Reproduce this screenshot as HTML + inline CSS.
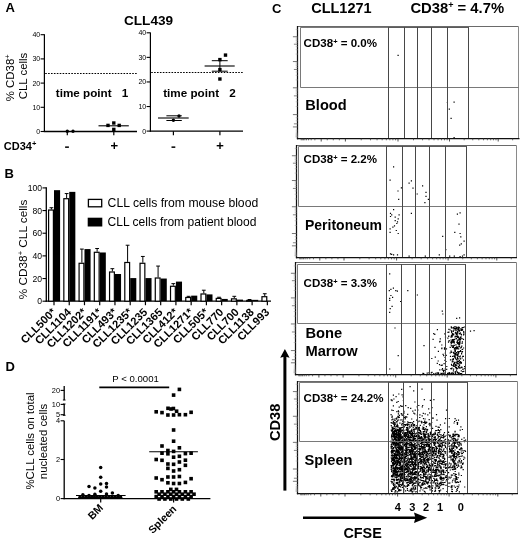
<!DOCTYPE html>
<html><head><meta charset="utf-8"><title>Figure</title>
<style>
html,body{margin:0;padding:0;background:#fff;}
body{width:520px;height:539px;overflow:hidden;font-family:"Liberation Sans",sans-serif;}
svg{display:block;opacity:0.999;will-change:transform;font-family:"Liberation Sans",sans-serif;}
</style></head><body>
<svg width="520" height="539" viewBox="0 0 520 539">
<rect width="520" height="539" fill="#fff"/>
<text x="5.5" y="11.8" font-size="13" font-weight="bold" text-anchor="start" fill="#000" >A</text>
<text x="4.6" y="178.2" font-size="13" font-weight="bold" text-anchor="start" fill="#000" >B</text>
<text x="272" y="12.6" font-size="13" font-weight="bold" text-anchor="start" fill="#000" >C</text>
<text x="5.6" y="370.8" font-size="13" font-weight="bold" text-anchor="start" fill="#000" >D</text>
<text x="124" y="25" font-size="13.6" font-weight="bold" text-anchor="start" fill="#000" >CLL439</text>
<line x1="44.4" y1="34.2" x2="44.4" y2="132.1" stroke="#000" stroke-width="1.2" />
<line x1="43.8" y1="131.5" x2="137" y2="131.5" stroke="#000" stroke-width="1.3" />
<line x1="40.6" y1="131.5" x2="44.4" y2="131.5" stroke="#000" stroke-width="1.1" />
<text x="40.199999999999996" y="134.0" font-size="7" text-anchor="end" fill="#000" >0</text>
<line x1="40.6" y1="107.3" x2="44.4" y2="107.3" stroke="#000" stroke-width="1.1" />
<text x="40.199999999999996" y="109.8" font-size="7" text-anchor="end" fill="#000" >10</text>
<line x1="40.6" y1="83.1" x2="44.4" y2="83.1" stroke="#000" stroke-width="1.1" />
<text x="40.199999999999996" y="85.6" font-size="7" text-anchor="end" fill="#000" >20</text>
<line x1="40.6" y1="58.900000000000006" x2="44.4" y2="58.900000000000006" stroke="#000" stroke-width="1.1" />
<text x="40.199999999999996" y="61.400000000000006" font-size="7" text-anchor="end" fill="#000" >30</text>
<line x1="40.6" y1="34.7" x2="44.4" y2="34.7" stroke="#000" stroke-width="1.1" />
<text x="40.199999999999996" y="37.2" font-size="7" text-anchor="end" fill="#000" >40</text>
<line x1="45.199999999999996" y1="73.5" x2="137.5" y2="73.5" stroke="#000" stroke-width="1.1" stroke-dasharray="1.6 1.3"/>
<line x1="150.4" y1="32.4" x2="150.4" y2="131.7" stroke="#000" stroke-width="1.2" />
<line x1="149.8" y1="131.1" x2="243" y2="131.1" stroke="#000" stroke-width="1.3" />
<line x1="146.6" y1="131.1" x2="150.4" y2="131.1" stroke="#000" stroke-width="1.1" />
<text x="146.20000000000002" y="133.6" font-size="7" text-anchor="end" fill="#000" >0</text>
<line x1="146.6" y1="106.52499999999999" x2="150.4" y2="106.52499999999999" stroke="#000" stroke-width="1.1" />
<text x="146.20000000000002" y="109.02499999999999" font-size="7" text-anchor="end" fill="#000" >10</text>
<line x1="146.6" y1="81.94999999999999" x2="150.4" y2="81.94999999999999" stroke="#000" stroke-width="1.1" />
<text x="146.20000000000002" y="84.44999999999999" font-size="7" text-anchor="end" fill="#000" >20</text>
<line x1="146.6" y1="57.375" x2="150.4" y2="57.375" stroke="#000" stroke-width="1.1" />
<text x="146.20000000000002" y="59.875" font-size="7" text-anchor="end" fill="#000" >30</text>
<line x1="146.6" y1="32.8" x2="150.4" y2="32.8" stroke="#000" stroke-width="1.1" />
<text x="146.20000000000002" y="35.3" font-size="7" text-anchor="end" fill="#000" >40</text>
<line x1="151.20000000000002" y1="72.5" x2="243.5" y2="72.5" stroke="#000" stroke-width="1.1" stroke-dasharray="1.6 1.3"/>
<text transform="translate(13.6,101.2) rotate(-90)" font-size="11.4" fill="#000">% CD38<tspan dy="-3.6" font-size="7.5">+</tspan></text>
<text transform="translate(27.3,99.2) rotate(-90)" font-size="11.4" fill="#000">CLL cells</text>
<text x="55.8" y="96.6" font-size="11.7" font-weight="bold" text-anchor="start" fill="#000" >time point</text>
<text x="121.8" y="96.6" font-size="11.7" font-weight="bold" text-anchor="start" fill="#000" >1</text>
<text x="163.2" y="96.6" font-size="11.7" font-weight="bold" text-anchor="start" fill="#000" >time point</text>
<text x="229.2" y="96.6" font-size="11.7" font-weight="bold" text-anchor="start" fill="#000" >2</text>
<text x="3.8" y="149.8" font-size="11" font-weight="bold" fill="#000">CD34<tspan dy="-3.5" font-size="7.5">+</tspan></text>
<rect x="65.10" y="146.40" width="3.80" height="1.50" fill="#000" stroke="none" stroke-width="1"/>
<rect x="171.50" y="146.40" width="3.80" height="1.50" fill="#000" stroke="none" stroke-width="1"/>
<rect x="111.00" y="145.00" width="6.60" height="1.40" fill="#000" stroke="none" stroke-width="1"/>
<rect x="113.60" y="142.40" width="1.40" height="6.60" fill="#000" stroke="none" stroke-width="1"/>
<rect x="216.70" y="145.00" width="6.60" height="1.40" fill="#000" stroke="none" stroke-width="1"/>
<rect x="219.30" y="142.40" width="1.40" height="6.60" fill="#000" stroke="none" stroke-width="1"/>
<line x1="67.3" y1="131.3" x2="67.3" y2="135.3" stroke="#000" stroke-width="1.2" />
<line x1="113.8" y1="131.3" x2="113.8" y2="135.3" stroke="#000" stroke-width="1.2" />
<line x1="173.4" y1="131.3" x2="173.4" y2="135.3" stroke="#000" stroke-width="1.2" />
<line x1="219.9" y1="131.3" x2="219.9" y2="135.3" stroke="#000" stroke-width="1.2" />
<circle cx="67.3" cy="131.3" r="1.7" fill="#000"/>
<circle cx="73.0" cy="131.3" r="1.7" fill="#000"/>
<rect x="106.3" y="123.7" width="3.4" height="3.4" fill="#000"/>
<rect x="112.1" y="121.3" width="3.4" height="3.4" fill="#000"/>
<rect x="117.5" y="123.7" width="3.4" height="3.4" fill="#000"/>
<rect x="112.1" y="127.7" width="3.4" height="3.4" fill="#000"/>
<line x1="98.5" y1="125.8" x2="128.8" y2="125.8" stroke="#000" stroke-width="1.1" />
<circle cx="173.4" cy="120.2" r="1.7" fill="#000"/>
<circle cx="179.0" cy="116.0" r="1.7" fill="#000"/>
<line x1="158" y1="118" x2="188.7" y2="118" stroke="#000" stroke-width="1.1" />
<line x1="166.4" y1="115.8" x2="181.8" y2="115.8" stroke="#000" stroke-width="1" />
<line x1="166.4" y1="120.5" x2="181.8" y2="120.5" stroke="#000" stroke-width="1" />
<rect x="223.8" y="53.4" width="3.4" height="3.4" fill="#000"/>
<rect x="218.2" y="57.9" width="3.4" height="3.4" fill="#000"/>
<rect x="218.2" y="67.9" width="3.4" height="3.4" fill="#000"/>
<rect x="218.2" y="77.3" width="3.4" height="3.4" fill="#000"/>
<line x1="204.6" y1="66" x2="234.7" y2="66" stroke="#000" stroke-width="1.1" />
<line x1="211.8" y1="60.7" x2="227.7" y2="60.7" stroke="#000" stroke-width="1" />
<line x1="211.8" y1="71.2" x2="227.7" y2="71.2" stroke="#000" stroke-width="1" />
<line x1="219.9" y1="60.7" x2="219.9" y2="71.2" stroke="#000" stroke-width="1" />
<line x1="46.3" y1="187.3" x2="46.3" y2="301.8" stroke="#000" stroke-width="1.3" />
<line x1="45.699999999999996" y1="301.2" x2="271" y2="301.2" stroke="#000" stroke-width="1.3" />
<line x1="42.5" y1="301.2" x2="46.3" y2="301.2" stroke="#000" stroke-width="1.1" />
<text x="42.099999999999994" y="304.3" font-size="8.6" text-anchor="end" fill="#000" >0</text>
<line x1="42.5" y1="278.53999999999996" x2="46.3" y2="278.53999999999996" stroke="#000" stroke-width="1.1" />
<text x="42.099999999999994" y="281.64" font-size="8.6" text-anchor="end" fill="#000" >20</text>
<line x1="42.5" y1="255.88" x2="46.3" y2="255.88" stroke="#000" stroke-width="1.1" />
<text x="42.099999999999994" y="258.98" font-size="8.6" text-anchor="end" fill="#000" >40</text>
<line x1="42.5" y1="233.21999999999997" x2="46.3" y2="233.21999999999997" stroke="#000" stroke-width="1.1" />
<text x="42.099999999999994" y="236.31999999999996" font-size="8.6" text-anchor="end" fill="#000" >60</text>
<line x1="42.5" y1="210.56" x2="46.3" y2="210.56" stroke="#000" stroke-width="1.1" />
<text x="42.099999999999994" y="213.66" font-size="8.6" text-anchor="end" fill="#000" >80</text>
<line x1="42.5" y1="187.89999999999998" x2="46.3" y2="187.89999999999998" stroke="#000" stroke-width="1.1" />
<text x="42.099999999999994" y="190.99999999999997" font-size="8.6" text-anchor="end" fill="#000" >100</text>
<text transform="translate(27,299.3) rotate(-90)" font-size="11.8" fill="#000">% CD38<tspan dy="-3.6" font-size="7.5">+</tspan><tspan dy="3.6"> CLL cells</tspan></text>
<line x1="54.0" y1="301.2" x2="54.0" y2="305.2" stroke="#000" stroke-width="1.2" />
<line x1="51.4" y1="207.7275" x2="51.4" y2="209.427" stroke="#000" stroke-width="1" />
<line x1="49.5" y1="207.7275" x2="53.3" y2="207.7275" stroke="#000" stroke-width="1" />
<rect x="48.60" y="210.03" width="4.80" height="91.17" fill="#fff" stroke="#000" stroke-width="1.2"/>
<rect x="54.00" y="190.17" width="6.10" height="111.03" fill="#000" stroke="none" stroke-width="1"/>
<text transform="translate(56.6,312.8) rotate(-45)" font-size="11.1" font-weight="bold" text-anchor="end" fill="#000">CLL500*</text>
<line x1="69.24" y1="301.2" x2="69.24" y2="305.2" stroke="#000" stroke-width="1.2" />
<line x1="66.64" y1="193.565" x2="66.64" y2="198.09699999999998" stroke="#000" stroke-width="1" />
<line x1="64.74" y1="193.565" x2="68.54" y2="193.565" stroke="#000" stroke-width="1" />
<rect x="63.84" y="198.70" width="4.80" height="102.50" fill="#fff" stroke="#000" stroke-width="1.2"/>
<rect x="69.24" y="191.87" width="6.10" height="109.33" fill="#000" stroke="none" stroke-width="1"/>
<text transform="translate(71.8,312.8) rotate(-45)" font-size="11.1" font-weight="bold" text-anchor="end" fill="#000">CLL1104</text>
<line x1="84.48" y1="301.2" x2="84.48" y2="305.2" stroke="#000" stroke-width="1.2" />
<line x1="81.88000000000001" y1="249.082" x2="81.88000000000001" y2="262.678" stroke="#000" stroke-width="1" />
<line x1="79.98" y1="249.082" x2="83.78000000000002" y2="249.082" stroke="#000" stroke-width="1" />
<rect x="79.08" y="263.28" width="4.80" height="37.92" fill="#fff" stroke="#000" stroke-width="1.2"/>
<rect x="84.48" y="249.08" width="6.10" height="52.12" fill="#000" stroke="none" stroke-width="1"/>
<text transform="translate(87.1,312.8) rotate(-45)" font-size="11.1" font-weight="bold" text-anchor="end" fill="#000">CLL1202*</text>
<line x1="99.72" y1="301.2" x2="99.72" y2="305.2" stroke="#000" stroke-width="1.2" />
<line x1="97.12" y1="248.51549999999997" x2="97.12" y2="251.68789999999998" stroke="#000" stroke-width="1" />
<line x1="95.22" y1="248.51549999999997" x2="99.02000000000001" y2="248.51549999999997" stroke="#000" stroke-width="1" />
<rect x="94.32" y="252.29" width="4.80" height="48.91" fill="#fff" stroke="#000" stroke-width="1.2"/>
<rect x="99.72" y="252.48" width="6.10" height="48.72" fill="#000" stroke="none" stroke-width="1"/>
<text transform="translate(102.3,312.8) rotate(-45)" font-size="11.1" font-weight="bold" text-anchor="end" fill="#000">CLL1191*</text>
<line x1="114.96000000000001" y1="301.2" x2="114.96000000000001" y2="305.2" stroke="#000" stroke-width="1.2" />
<line x1="112.36000000000001" y1="268.6829" x2="112.36000000000001" y2="271.40209999999996" stroke="#000" stroke-width="1" />
<line x1="110.46000000000001" y1="268.6829" x2="114.26000000000002" y2="268.6829" stroke="#000" stroke-width="1" />
<rect x="109.56" y="272.00" width="4.80" height="29.20" fill="#fff" stroke="#000" stroke-width="1.2"/>
<rect x="114.96" y="274.01" width="6.10" height="27.19" fill="#000" stroke="none" stroke-width="1"/>
<text transform="translate(117.6,312.8) rotate(-45)" font-size="11.1" font-weight="bold" text-anchor="end" fill="#000">CLL493*</text>
<line x1="130.2" y1="301.2" x2="130.2" y2="305.2" stroke="#000" stroke-width="1.2" />
<line x1="127.6" y1="245.22979999999998" x2="127.6" y2="261.8849" stroke="#000" stroke-width="1" />
<line x1="125.69999999999999" y1="245.22979999999998" x2="129.5" y2="245.22979999999998" stroke="#000" stroke-width="1" />
<rect x="124.80" y="262.48" width="4.80" height="38.72" fill="#fff" stroke="#000" stroke-width="1.2"/>
<rect x="130.20" y="278.09" width="6.10" height="23.11" fill="#000" stroke="none" stroke-width="1"/>
<text transform="translate(132.8,312.8) rotate(-45)" font-size="11.1" font-weight="bold" text-anchor="end" fill="#000">CLL1235*</text>
<line x1="145.44" y1="301.2" x2="145.44" y2="305.2" stroke="#000" stroke-width="1.2" />
<line x1="142.84" y1="256.4465" x2="142.84" y2="262.678" stroke="#000" stroke-width="1" />
<line x1="140.94" y1="256.4465" x2="144.74" y2="256.4465" stroke="#000" stroke-width="1" />
<rect x="140.04" y="263.28" width="4.80" height="37.92" fill="#fff" stroke="#000" stroke-width="1.2"/>
<rect x="145.44" y="278.09" width="6.10" height="23.11" fill="#000" stroke="none" stroke-width="1"/>
<text transform="translate(148.0,312.8) rotate(-45)" font-size="11.1" font-weight="bold" text-anchor="end" fill="#000">CLL1235</text>
<line x1="160.68" y1="301.2" x2="160.68" y2="305.2" stroke="#000" stroke-width="1.2" />
<line x1="158.08" y1="266.077" x2="158.08" y2="277.407" stroke="#000" stroke-width="1" />
<line x1="156.18" y1="266.077" x2="159.98000000000002" y2="266.077" stroke="#000" stroke-width="1" />
<rect x="155.28" y="278.01" width="4.80" height="23.19" fill="#fff" stroke="#000" stroke-width="1.2"/>
<rect x="160.68" y="278.54" width="6.10" height="22.66" fill="#000" stroke="none" stroke-width="1"/>
<text transform="translate(163.3,312.8) rotate(-45)" font-size="11.1" font-weight="bold" text-anchor="end" fill="#000">CLL1365</text>
<line x1="175.92000000000002" y1="301.2" x2="175.92000000000002" y2="305.2" stroke="#000" stroke-width="1.2" />
<line x1="173.32000000000002" y1="283.63849999999996" x2="173.32000000000002" y2="285.67789999999997" stroke="#000" stroke-width="1" />
<line x1="171.42000000000002" y1="283.63849999999996" x2="175.22000000000003" y2="283.63849999999996" stroke="#000" stroke-width="1" />
<rect x="170.52" y="286.28" width="4.80" height="14.92" fill="#fff" stroke="#000" stroke-width="1.2"/>
<rect x="175.92" y="281.60" width="6.10" height="19.60" fill="#000" stroke="none" stroke-width="1"/>
<text transform="translate(178.5,312.8) rotate(-45)" font-size="11.1" font-weight="bold" text-anchor="end" fill="#000">CLL412*</text>
<line x1="191.16" y1="301.2" x2="191.16" y2="305.2" stroke="#000" stroke-width="1.2" />
<line x1="188.56" y1="296.3281" x2="188.56" y2="296.89459999999997" stroke="#000" stroke-width="1" />
<line x1="186.66" y1="296.3281" x2="190.46" y2="296.3281" stroke="#000" stroke-width="1" />
<rect x="185.76" y="297.49" width="4.80" height="3.71" fill="#fff" stroke="#000" stroke-width="1.2"/>
<rect x="191.16" y="295.65" width="6.10" height="5.55" fill="#000" stroke="none" stroke-width="1"/>
<text transform="translate(193.8,312.8) rotate(-45)" font-size="11.1" font-weight="bold" text-anchor="end" fill="#000">CLL1271*</text>
<line x1="206.4" y1="301.2" x2="206.4" y2="305.2" stroke="#000" stroke-width="1.2" />
<line x1="203.8" y1="290.2099" x2="203.8" y2="293.3823" stroke="#000" stroke-width="1" />
<line x1="201.9" y1="290.2099" x2="205.70000000000002" y2="290.2099" stroke="#000" stroke-width="1" />
<rect x="201.00" y="293.98" width="4.80" height="7.22" fill="#fff" stroke="#000" stroke-width="1.2"/>
<rect x="206.40" y="294.40" width="6.10" height="6.80" fill="#000" stroke="none" stroke-width="1"/>
<text transform="translate(209.0,312.8) rotate(-45)" font-size="11.1" font-weight="bold" text-anchor="end" fill="#000">CLL505*</text>
<line x1="221.64000000000001" y1="301.2" x2="221.64000000000001" y2="305.2" stroke="#000" stroke-width="1.2" />
<line x1="219.04000000000002" y1="297.23449999999997" x2="219.04000000000002" y2="297.801" stroke="#000" stroke-width="1" />
<line x1="217.14000000000001" y1="297.23449999999997" x2="220.94000000000003" y2="297.23449999999997" stroke="#000" stroke-width="1" />
<rect x="216.24" y="298.40" width="4.80" height="2.80" fill="#fff" stroke="#000" stroke-width="1.2"/>
<rect x="221.64" y="298.93" width="6.10" height="2.27" fill="#000" stroke="none" stroke-width="1"/>
<text transform="translate(224.2,312.8) rotate(-45)" font-size="11.1" font-weight="bold" text-anchor="end" fill="#000">CLL770</text>
<line x1="236.88" y1="301.2" x2="236.88" y2="305.2" stroke="#000" stroke-width="1.2" />
<line x1="234.28" y1="296.3281" x2="234.28" y2="298.25419999999997" stroke="#000" stroke-width="1" />
<line x1="232.38" y1="296.3281" x2="236.18" y2="296.3281" stroke="#000" stroke-width="1" />
<rect x="231.48" y="298.85" width="4.80" height="2.35" fill="#fff" stroke="#000" stroke-width="1.2"/>
<rect x="236.88" y="299.61" width="6.10" height="1.59" fill="#000" stroke="none" stroke-width="1"/>
<text transform="translate(239.5,312.8) rotate(-45)" font-size="11.1" font-weight="bold" text-anchor="end" fill="#000">CLL700</text>
<line x1="252.12" y1="301.2" x2="252.12" y2="305.2" stroke="#000" stroke-width="1.2" />
<line x1="249.52" y1="299.5005" x2="249.52" y2="299.8404" stroke="#000" stroke-width="1" />
<line x1="247.62" y1="299.5005" x2="251.42000000000002" y2="299.5005" stroke="#000" stroke-width="1" />
<rect x="246.72" y="300.44" width="4.80" height="0.76" fill="#fff" stroke="#000" stroke-width="1.2"/>
<rect x="252.12" y="299.84" width="6.10" height="1.36" fill="#000" stroke="none" stroke-width="1"/>
<text transform="translate(254.7,312.8) rotate(-45)" font-size="11.1" font-weight="bold" text-anchor="end" fill="#000">CLL1138</text>
<line x1="267.36" y1="301.2" x2="267.36" y2="305.2" stroke="#000" stroke-width="1.2" />
<line x1="264.76" y1="293.7222" x2="264.76" y2="296.1015" stroke="#000" stroke-width="1" />
<line x1="262.86" y1="293.7222" x2="266.65999999999997" y2="293.7222" stroke="#000" stroke-width="1" />
<rect x="261.96" y="296.70" width="4.80" height="4.50" fill="#fff" stroke="#000" stroke-width="1.2"/>
<text transform="translate(270.0,312.8) rotate(-45)" font-size="11.1" font-weight="bold" text-anchor="end" fill="#000">CLL993</text>
<rect x="88.40" y="199.40" width="13.30" height="7.40" fill="#fff" stroke="#000" stroke-width="1.3"/>
<rect x="87.70" y="217.70" width="14.60" height="8.80" fill="#000" stroke="none" stroke-width="1"/>
<text x="107.6" y="206.8" font-size="12.2" text-anchor="start" fill="#000" >CLL cells from mouse blood</text>
<text x="107.6" y="226" font-size="12.05" text-anchor="start" fill="#000" >CLL cells from patient blood</text>
<line x1="64.2" y1="420.8" x2="64.2" y2="499.20000000000005" stroke="#000" stroke-width="1.3" />
<line x1="64.2" y1="404" x2="64.2" y2="415.3" stroke="#000" stroke-width="1.3" />
<line x1="64.2" y1="386" x2="64.2" y2="400" stroke="#000" stroke-width="1.3" />
<line x1="62.900000000000006" y1="400" x2="65.5" y2="400" stroke="#000" stroke-width="1" />
<line x1="62.900000000000006" y1="404" x2="65.5" y2="404" stroke="#000" stroke-width="1" />
<line x1="62.900000000000006" y1="415.3" x2="65.5" y2="415.3" stroke="#000" stroke-width="1" />
<line x1="63.6" y1="498.6" x2="210.4" y2="498.6" stroke="#000" stroke-width="1.3" />
<line x1="60.6" y1="498.6" x2="64.2" y2="498.6" stroke="#000" stroke-width="1.1" />
<text x="60.0" y="501.20000000000005" font-size="7.4" text-anchor="end" fill="#000" >0</text>
<line x1="60.6" y1="459.5" x2="64.2" y2="459.5" stroke="#000" stroke-width="1.1" />
<text x="60.0" y="462.1" font-size="7.4" text-anchor="end" fill="#000" >2</text>
<line x1="60.6" y1="420.8" x2="64.2" y2="420.8" stroke="#000" stroke-width="1.1" />
<text x="60.0" y="423.40000000000003" font-size="7.4" text-anchor="end" fill="#000" >4</text>
<line x1="60.6" y1="414.7" x2="64.2" y2="414.7" stroke="#000" stroke-width="1.1" />
<text x="60.0" y="417.3" font-size="7.4" text-anchor="end" fill="#000" >5</text>
<line x1="60.6" y1="404.4" x2="64.2" y2="404.4" stroke="#000" stroke-width="1.1" />
<text x="60.0" y="407.0" font-size="7.4" text-anchor="end" fill="#000" >10</text>
<line x1="60.6" y1="390.4" x2="64.2" y2="390.4" stroke="#000" stroke-width="1.1" />
<text x="60.0" y="393.0" font-size="7.4" text-anchor="end" fill="#000" >20</text>
<text transform="translate(33.6,441) rotate(-90)" font-size="11.4" text-anchor="middle" fill="#000">%CLL cells on total</text>
<text transform="translate(47,441.5) rotate(-90)" font-size="11.4" text-anchor="middle" fill="#000">nucleated cells</text>
<line x1="99.3" y1="387.4" x2="169.2" y2="387.4" stroke="#000" stroke-width="1.6" />
<text x="135.6" y="382.2" font-size="9.6" text-anchor="middle" fill="#000" >P &lt; 0.0001</text>
<line x1="100.7" y1="498.6" x2="100.7" y2="502.6" stroke="#000" stroke-width="1.2" />
<line x1="173.6" y1="498.6" x2="173.6" y2="502.6" stroke="#000" stroke-width="1.2" />
<text transform="translate(103.8,508.6) rotate(-45)" font-size="10.6" font-weight="bold" text-anchor="end" fill="#000">BM</text>
<text transform="translate(177.2,509.6) rotate(-45)" font-size="10.6" font-weight="bold" text-anchor="end" fill="#000">Spleen</text>
<circle cx="100.7" cy="467.4" r="1.75" fill="#000"/>
<circle cx="100.7" cy="477.2" r="1.75" fill="#000"/>
<circle cx="100.7" cy="484.0" r="1.75" fill="#000"/>
<circle cx="106.5" cy="483.5" r="1.75" fill="#000"/>
<circle cx="106.5" cy="487.0" r="1.75" fill="#000"/>
<circle cx="89.0" cy="486.6" r="1.75" fill="#000"/>
<circle cx="94.9" cy="488.1" r="1.75" fill="#000"/>
<circle cx="100.7" cy="491.3" r="1.75" fill="#000"/>
<circle cx="112.4" cy="493.0" r="1.75" fill="#000"/>
<circle cx="106.5" cy="494.0" r="1.75" fill="#000"/>
<circle cx="94.9" cy="494.3" r="1.75" fill="#000"/>
<circle cx="82.9" cy="494.7" r="1.75" fill="#000"/>
<circle cx="89.0" cy="495.4" r="1.75" fill="#000"/>
<circle cx="118.2" cy="495.4" r="1.75" fill="#000"/>
<circle cx="80.0" cy="497.3" r="1.75" fill="#000"/>
<circle cx="82.9" cy="497.3" r="1.75" fill="#000"/>
<circle cx="85.8" cy="497.3" r="1.75" fill="#000"/>
<circle cx="88.7" cy="497.3" r="1.75" fill="#000"/>
<circle cx="91.6" cy="497.3" r="1.75" fill="#000"/>
<circle cx="94.5" cy="497.3" r="1.75" fill="#000"/>
<circle cx="97.4" cy="497.3" r="1.75" fill="#000"/>
<circle cx="100.3" cy="497.3" r="1.75" fill="#000"/>
<circle cx="103.2" cy="497.3" r="1.75" fill="#000"/>
<circle cx="106.1" cy="497.3" r="1.75" fill="#000"/>
<circle cx="109.0" cy="497.3" r="1.75" fill="#000"/>
<circle cx="111.9" cy="497.3" r="1.75" fill="#000"/>
<circle cx="114.8" cy="497.3" r="1.75" fill="#000"/>
<circle cx="117.7" cy="497.3" r="1.75" fill="#000"/>
<circle cx="120.6" cy="497.3" r="1.75" fill="#000"/>
<line x1="76" y1="495.5" x2="125.6" y2="495.5" stroke="#000" stroke-width="1.1" />
<rect x="177.6" y="387.6" width="3.6" height="3.6" fill="#000"/>
<rect x="171.8" y="393.3" width="3.6" height="3.6" fill="#000"/>
<rect x="166.2" y="406.5" width="3.6" height="3.6" fill="#000"/>
<rect x="171.6" y="406.7" width="3.6" height="3.6" fill="#000"/>
<rect x="169.2" y="407.2" width="3.6" height="3.6" fill="#000"/>
<rect x="174.8" y="409.4" width="3.6" height="3.6" fill="#000"/>
<rect x="154.4" y="410.0" width="3.6" height="3.6" fill="#000"/>
<rect x="160.2" y="410.8" width="3.6" height="3.6" fill="#000"/>
<rect x="189.3" y="410.5" width="3.6" height="3.6" fill="#000"/>
<rect x="166.1" y="413.2" width="3.6" height="3.6" fill="#000"/>
<rect x="171.8" y="413.2" width="3.6" height="3.6" fill="#000"/>
<rect x="177.6" y="412.9" width="3.6" height="3.6" fill="#000"/>
<rect x="183.6" y="412.9" width="3.6" height="3.6" fill="#000"/>
<rect x="171.8" y="428.2" width="3.6" height="3.6" fill="#000"/>
<rect x="171.8" y="439.4" width="3.6" height="3.6" fill="#000"/>
<rect x="160.2" y="444.2" width="3.6" height="3.6" fill="#000"/>
<rect x="177.6" y="446.0" width="3.6" height="3.6" fill="#000"/>
<rect x="166.1" y="448.7" width="3.6" height="3.6" fill="#000"/>
<rect x="171.8" y="449.6" width="3.6" height="3.6" fill="#000"/>
<rect x="160.2" y="451.4" width="3.6" height="3.6" fill="#000"/>
<rect x="166.1" y="452.0" width="3.6" height="3.6" fill="#000"/>
<rect x="183.6" y="451.8" width="3.6" height="3.6" fill="#000"/>
<rect x="189.3" y="451.4" width="3.6" height="3.6" fill="#000"/>
<rect x="171.8" y="455.4" width="3.6" height="3.6" fill="#000"/>
<rect x="177.6" y="454.5" width="3.6" height="3.6" fill="#000"/>
<rect x="154.4" y="457.7" width="3.6" height="3.6" fill="#000"/>
<rect x="160.2" y="458.5" width="3.6" height="3.6" fill="#000"/>
<rect x="183.6" y="458.4" width="3.6" height="3.6" fill="#000"/>
<rect x="177.6" y="460.2" width="3.6" height="3.6" fill="#000"/>
<rect x="166.1" y="462.2" width="3.6" height="3.6" fill="#000"/>
<rect x="171.8" y="462.5" width="3.6" height="3.6" fill="#000"/>
<rect x="183.6" y="463.5" width="3.6" height="3.6" fill="#000"/>
<rect x="166.1" y="466.6" width="3.6" height="3.6" fill="#000"/>
<rect x="177.6" y="467.9" width="3.6" height="3.6" fill="#000"/>
<rect x="171.8" y="469.2" width="3.6" height="3.6" fill="#000"/>
<rect x="166.1" y="475.2" width="3.6" height="3.6" fill="#000"/>
<rect x="171.8" y="475.2" width="3.6" height="3.6" fill="#000"/>
<rect x="177.6" y="474.7" width="3.6" height="3.6" fill="#000"/>
<rect x="154.4" y="476.2" width="3.6" height="3.6" fill="#000"/>
<rect x="160.2" y="477.9" width="3.6" height="3.6" fill="#000"/>
<rect x="189.3" y="476.9" width="3.6" height="3.6" fill="#000"/>
<rect x="166.1" y="481.0" width="3.6" height="3.6" fill="#000"/>
<rect x="171.8" y="481.7" width="3.6" height="3.6" fill="#000"/>
<rect x="177.6" y="481.7" width="3.6" height="3.6" fill="#000"/>
<rect x="183.6" y="480.6" width="3.6" height="3.6" fill="#000"/>
<rect x="169.0" y="487.6" width="3.6" height="3.6" fill="#000"/>
<rect x="174.7" y="487.6" width="3.6" height="3.6" fill="#000"/>
<rect x="154.4" y="490.0" width="3.6" height="3.6" fill="#000"/>
<rect x="154.4" y="494.8" width="3.6" height="3.6" fill="#000"/>
<rect x="160.2" y="490.0" width="3.6" height="3.6" fill="#000"/>
<rect x="160.2" y="494.8" width="3.6" height="3.6" fill="#000"/>
<rect x="166.1" y="490.0" width="3.6" height="3.6" fill="#000"/>
<rect x="166.1" y="494.8" width="3.6" height="3.6" fill="#000"/>
<rect x="171.8" y="490.0" width="3.6" height="3.6" fill="#000"/>
<rect x="171.8" y="494.8" width="3.6" height="3.6" fill="#000"/>
<rect x="177.6" y="490.0" width="3.6" height="3.6" fill="#000"/>
<rect x="177.6" y="494.8" width="3.6" height="3.6" fill="#000"/>
<rect x="183.6" y="490.0" width="3.6" height="3.6" fill="#000"/>
<rect x="183.6" y="494.8" width="3.6" height="3.6" fill="#000"/>
<rect x="189.3" y="490.0" width="3.6" height="3.6" fill="#000"/>
<rect x="189.3" y="494.8" width="3.6" height="3.6" fill="#000"/>
<rect x="157.3" y="492.4" width="3.6" height="3.6" fill="#000"/>
<rect x="163.1" y="492.4" width="3.6" height="3.6" fill="#000"/>
<rect x="169.0" y="492.4" width="3.6" height="3.6" fill="#000"/>
<rect x="174.7" y="492.4" width="3.6" height="3.6" fill="#000"/>
<rect x="180.5" y="492.4" width="3.6" height="3.6" fill="#000"/>
<rect x="186.5" y="492.4" width="3.6" height="3.6" fill="#000"/>
<rect x="192.2" y="492.4" width="3.6" height="3.6" fill="#000"/>
<rect x="157.3" y="497.2" width="3.6" height="3.6" fill="#000"/>
<rect x="163.1" y="497.2" width="3.6" height="3.6" fill="#000"/>
<rect x="169.0" y="497.2" width="3.6" height="3.6" fill="#000"/>
<rect x="174.7" y="497.2" width="3.6" height="3.6" fill="#000"/>
<rect x="180.5" y="497.2" width="3.6" height="3.6" fill="#000"/>
<rect x="186.5" y="497.2" width="3.6" height="3.6" fill="#000"/>
<line x1="149.2" y1="451.7" x2="197.9" y2="451.7" stroke="#000" stroke-width="1.1" />
<text x="311.2" y="13" font-size="14.5" font-weight="bold" text-anchor="start" fill="#000" >CLL1271</text>
<text x="410.4" y="12.7" font-size="14.8" font-weight="bold" fill="#000">CD38<tspan dy="-4.5" font-size="9">+</tspan><tspan dy="4.5"> = 4.7%</tspan></text>
<path d="M397.5 55.4h1.2M446.8 102.5h1.2M453.5 102.2h1.2M448.7 109.2h1.2M450.5 118.4h1.2M453.5 137.5h1.2M393.0 166.9h1.2M389.5 180.1h1.2M400.8 187.8h1.2M397.4 191.0h1.2M398.1 199.4h1.2M410.8 180.8h1.2M408.5 183.1h1.2M412.4 188.2h1.2M422.0 185.9h1.2M416.6 194.0h1.2M425.4 192.4h1.2M425.4 196.3h1.2M427.8 199.4h1.2M424.3 202.6h1.2M393.0 209.6h1.2M389.9 213.3h1.2M391.1 214.9h1.2M398.5 214.9h1.2M389.9 216.5h1.2M394.6 217.2h1.2M397.6 218.9h1.2M394.6 220.7h1.2M396.9 221.9h1.2M396.2 223.5h1.2M393.9 225.8h1.2M392.3 227.2h1.2M389.5 228.8h1.2M395.7 230.5h1.2M389.5 232.3h1.2M397.6 233.5h1.2M410.8 213.3h1.2M459.5 212.8h1.2M456.8 214.2h1.2M458.4 224.2h1.2M454.2 232.3h1.2M459.5 233.5h1.2M460.2 236.9h1.2M463.5 241.1h1.2M460.7 243.9h1.2M459.1 245.1h1.2M442.1 236.3h1.2M445.2 249.7h1.2M389.9 253.9h1.2M391.1 254.3h1.2M393.0 254.8h1.2M396.9 254.8h1.2M408.5 256.2h1.2M424.7 256.2h1.2M438.7 254.8h1.2M449.1 256.2h1.2M453.7 256.2h1.2M459.5 256.7h1.2M461.9 256.2h1.2M463.5 254.8h1.2M389.1 273.8h1.2M388.7 290.6h1.2M390.3 289.4h1.2M392.8 288.2h1.2M395.2 290.6h1.2M396.8 291.1h1.2M390.3 295.5h1.2M389.1 298.4h1.2M392.0 297.4h1.2M389.1 300.3h1.2M400.0 301.5h1.2M391.5 306.3h1.2M389.6 308.7h1.2M389.1 312.3h1.2M407.2 290.6h1.2M416.8 295.0h1.2M441.7 311.1h1.2M442.2 314.0h1.2M456.1 318.4h1.2M459.0 317.9h1.2M394.4 328.0h1.2M397.6 355.7h1.2M389.1 369.0h1.2M423.4 345.6h1.2M436.8 329.7h1.2M432.5 339.3h1.2M434.4 347.3h1.2M439.7 338.8h1.2M469.9 331.1h1.2M473.5 330.6h1.2M451.2 373.3h1.2M451.3 372.9h1.2M461.2 367.1h1.2M457.3 355.9h1.2M453.2 342.0h1.2M457.0 332.4h1.2M454.6 356.9h1.2M454.7 350.0h1.2M454.9 332.3h1.2M455.4 344.8h1.2M459.3 373.8h1.2M454.7 328.3h1.2M458.4 342.8h1.2M463.0 334.9h1.2M456.5 363.6h1.2M454.4 354.7h1.2M461.0 354.0h1.2M456.4 347.8h1.2M447.9 342.1h1.2M457.8 352.3h1.2M456.5 346.9h1.2M451.9 347.4h1.2M462.1 371.6h1.2M461.0 352.0h1.2M459.8 351.3h1.2M458.6 351.5h1.2M452.7 331.3h1.2M455.3 330.5h1.2M450.8 327.8h1.2M453.7 348.8h1.2M458.2 337.9h1.2M459.8 356.2h1.2M455.2 347.8h1.2M461.4 338.7h1.2M463.2 371.4h1.2M461.2 346.2h1.2M455.7 334.4h1.2M454.4 353.2h1.2M457.8 366.7h1.2M452.4 333.9h1.2M456.4 371.7h1.2M451.4 368.1h1.2M462.3 369.5h1.2M451.9 339.6h1.2M461.6 368.0h1.2M453.5 342.2h1.2M456.4 348.6h1.2M463.0 348.0h1.2M452.8 370.9h1.2M461.6 349.3h1.2M461.0 373.6h1.2M451.5 340.8h1.2M460.6 363.5h1.2M463.6 368.6h1.2M456.1 365.7h1.2M453.7 362.3h1.2M451.0 346.0h1.2M451.1 330.8h1.2M450.5 345.0h1.2M458.7 327.6h1.2M453.3 330.1h1.2M457.0 331.4h1.2M456.8 336.8h1.2M457.5 342.4h1.2M457.1 337.4h1.2M462.6 327.5h1.2M461.9 329.1h1.2M452.6 352.4h1.2M455.3 362.3h1.2M458.8 330.3h1.2M450.6 341.7h1.2M453.3 353.5h1.2M460.8 330.3h1.2M460.0 350.6h1.2M453.1 334.4h1.2M459.7 361.5h1.2M454.0 363.9h1.2M453.1 363.8h1.2M458.4 339.4h1.2M460.8 334.4h1.2M460.7 370.9h1.2M461.8 351.8h1.2M456.8 358.7h1.2M456.1 359.7h1.2M458.9 339.3h1.2M452.7 356.0h1.2M451.7 359.8h1.2M452.5 340.8h1.2M455.6 336.2h1.2M456.2 333.3h1.2M450.5 351.2h1.2M460.6 347.5h1.2M452.8 342.0h1.2M454.8 351.1h1.2M450.4 337.1h1.2M458.1 348.9h1.2M454.1 349.1h1.2M454.8 347.6h1.2M452.0 356.5h1.2M450.9 335.4h1.2M457.2 342.3h1.2M457.0 348.6h1.2M454.9 367.4h1.2M457.5 354.5h1.2M458.1 352.2h1.2M453.8 356.3h1.2M453.8 343.0h1.2M455.5 336.7h1.2M455.5 328.1h1.2M449.9 356.3h1.2M453.1 335.0h1.2M452.3 361.4h1.2M453.4 345.3h1.2M460.0 351.1h1.2M461.5 343.3h1.2M455.9 346.8h1.2M462.0 330.1h1.2M456.8 357.3h1.2M460.6 367.3h1.2M462.0 329.9h1.2M459.7 332.9h1.2M460.0 348.0h1.2M452.9 346.1h1.2M458.8 367.8h1.2M457.2 329.6h1.2M462.8 356.4h1.2M455.3 336.1h1.2M456.8 335.9h1.2M460.3 330.2h1.2M459.5 362.6h1.2M450.9 364.4h1.2M451.6 361.8h1.2M453.2 327.4h1.2M456.8 363.6h1.2M457.6 353.5h1.2M447.3 338.1h1.2M458.1 329.2h1.2M457.9 336.9h1.2M458.5 356.7h1.2M456.3 334.3h1.2M459.9 339.5h1.2M458.4 367.7h1.2M458.3 344.7h1.2M456.1 327.2h1.2M453.8 328.6h1.2M463.3 334.1h1.2M455.6 333.0h1.2M449.4 373.3h1.2M453.6 353.6h1.2M452.7 347.5h1.2M455.3 353.2h1.2M457.1 336.0h1.2M457.8 363.8h1.2M457.3 354.6h1.2M456.5 328.1h1.2M457.8 337.5h1.2M455.9 352.7h1.2M457.7 340.2h1.2M452.0 335.0h1.2M459.5 341.1h1.2M461.6 358.0h1.2M453.6 341.1h1.2M450.7 343.4h1.2M456.9 372.7h1.2M454.7 358.2h1.2M460.9 334.9h1.2M462.9 360.1h1.2M460.4 328.7h1.2M456.5 342.1h1.2M458.2 328.2h1.2M456.0 334.2h1.2M455.1 329.2h1.2M453.0 365.2h1.2M458.2 367.2h1.2M456.8 348.6h1.2M450.7 352.3h1.2M455.5 348.4h1.2M449.6 330.0h1.2M458.9 344.7h1.2M457.5 328.2h1.2M456.9 327.9h1.2M450.8 336.1h1.2M463.2 332.7h1.2M448.1 336.3h1.2M456.1 348.8h1.2M457.0 355.5h1.2M453.8 362.9h1.2M455.9 370.2h1.2M459.2 363.2h1.2M459.0 338.4h1.2M457.5 352.7h1.2M458.2 352.9h1.2M452.2 342.1h1.2M447.4 332.3h1.2M457.4 331.9h1.2M452.6 358.6h1.2M454.8 333.2h1.2M464.8 366.5h1.2M455.5 330.4h1.2M458.9 331.1h1.2M452.0 345.9h1.2M458.8 360.3h1.2M454.7 371.6h1.2M450.7 326.8h1.2M450.9 342.3h1.2M458.1 327.2h1.2M460.4 336.8h1.2M449.6 353.0h1.2M457.4 372.9h1.2M454.1 348.1h1.2M450.3 342.5h1.2M454.1 328.6h1.2M451.6 336.1h1.2M449.9 359.9h1.2M452.8 359.3h1.2M456.0 367.6h1.2M454.7 372.3h1.2M453.2 366.3h1.2M448.6 340.5h1.2M459.0 364.9h1.2M454.4 326.6h1.2M454.3 350.8h1.2M458.2 366.4h1.2M454.8 365.1h1.2M457.8 361.4h1.2M458.7 333.7h1.2M454.4 350.7h1.2M459.5 358.2h1.2M461.8 341.8h1.2M460.8 362.3h1.2M448.5 340.8h1.2M459.5 342.8h1.2M454.3 357.4h1.2M458.5 342.8h1.2M456.8 331.6h1.2M451.1 368.8h1.2M452.8 339.6h1.2M462.0 349.5h1.2M457.3 363.5h1.2M463.1 331.7h1.2M457.5 343.1h1.2M458.0 347.0h1.2M455.7 368.5h1.2M448.3 373.6h1.2M448.3 329.3h1.2M448.3 332.1h1.2M453.0 369.1h1.2M459.9 337.4h1.2M452.3 342.6h1.2M455.2 345.0h1.2M456.7 368.6h1.2M455.8 336.1h1.2M458.5 372.8h1.2M453.7 345.3h1.2M458.9 365.6h1.2M455.3 364.4h1.2M460.2 337.9h1.2M456.9 333.8h1.2M462.9 339.4h1.2M461.9 351.7h1.2M455.9 336.1h1.2M456.6 361.1h1.2M456.0 333.3h1.2M452.2 327.9h1.2M457.5 352.8h1.2M451.7 334.0h1.2M458.2 367.9h1.2M454.9 347.5h1.2M456.3 342.5h1.2M461.6 327.5h1.2M452.8 347.3h1.2M448.7 372.7h1.2M461.0 353.5h1.2M456.8 347.6h1.2M459.5 333.8h1.2M456.3 334.2h1.2M455.3 338.9h1.2M454.4 336.8h1.2M463.7 327.0h1.2M450.9 373.7h1.2M454.5 351.3h1.2M455.0 354.2h1.2M458.3 346.9h1.2M460.7 347.4h1.2M459.5 368.2h1.2M460.7 329.5h1.2M453.8 339.4h1.2M453.1 352.6h1.2M456.7 341.2h1.2M462.1 356.3h1.2M449.6 347.3h1.2M457.2 340.1h1.2M450.4 340.0h1.2M451.4 336.9h1.2M455.9 338.7h1.2M457.2 351.5h1.2M452.7 373.2h1.2M460.3 374.2h1.2M455.6 355.1h1.2M458.9 346.4h1.2M452.1 359.8h1.2M455.6 348.9h1.2M459.0 341.8h1.2M459.5 338.8h1.2M458.2 330.4h1.2M457.1 359.0h1.2M455.2 359.0h1.2M464.0 366.6h1.2M451.7 333.6h1.2M460.4 362.7h1.2M458.6 327.9h1.2M454.7 365.3h1.2M457.7 363.9h1.2M456.5 354.3h1.2M454.5 366.3h1.2M455.2 332.5h1.2M458.4 345.0h1.2M455.7 328.3h1.2M450.2 368.6h1.2M458.0 343.9h1.2M457.6 358.9h1.2M454.5 326.5h1.2M456.7 363.3h1.2M451.1 332.3h1.2M455.5 328.9h1.2M450.9 331.2h1.2M459.2 339.8h1.2M454.6 351.1h1.2M452.0 333.7h1.2M451.0 365.2h1.2M456.6 362.3h1.2M458.2 329.4h1.2M448.2 336.2h1.2M459.1 343.8h1.2M454.2 355.9h1.2M456.9 343.6h1.2M452.4 365.7h1.2M460.0 359.0h1.2M453.1 328.2h1.2M458.5 362.1h1.2M444.9 337.1h1.2M444.8 368.6h1.2M433.1 333.7h1.2M442.5 354.4h1.2M444.2 333.9h1.2M431.4 372.3h1.2M443.5 373.0h1.2M440.4 373.4h1.2M441.2 348.7h1.2M445.4 361.5h1.2M442.5 370.3h1.2M444.5 357.5h1.2M441.5 369.7h1.2M443.0 371.3h1.2M445.9 348.9h1.2M439.1 341.8h1.2M442.3 373.6h1.2M439.2 369.8h1.2M444.4 360.3h1.2M446.1 369.4h1.2M443.9 349.1h1.2M443.6 370.3h1.2M443.5 363.6h1.2M441.2 345.0h1.2M436.7 363.4h1.2M443.1 355.6h1.2M441.7 365.1h1.2M441.9 368.5h1.2M443.9 347.9h1.2M431.2 358.5h1.2M437.4 373.9h1.2M446.2 366.5h1.2M434.7 357.2h1.2M440.6 365.3h1.2M437.6 361.0h1.2M437.8 351.3h1.2M438.9 364.6h1.2M444.8 353.1h1.2M434.2 334.4h1.2M441.3 348.1h1.2M445.6 355.3h1.2M439.5 341.3h1.2M422.4 373.4h1.2M447.0 373.4h1.2M443.7 373.1h1.2M435.2 373.4h1.2M438.0 373.3h1.2M454.6 373.1h1.2M451.5 372.8h1.2M433.2 373.5h1.2M428.3 372.8h1.2M422.6 373.5h1.2M426.6 373.2h1.2M440.9 373.5h1.2M442.5 373.2h1.2M423.1 373.5h1.2M455.0 373.3h1.2M457.9 373.3h1.2M452.8 373.6h1.2M448.5 372.7h1.2M460.0 373.7h1.2M430.7 372.8h1.2M436.6 372.8h1.2M437.9 372.8h1.2M401.5 447.4h1.2M395.8 467.3h1.2M433.4 442.3h1.2M405.4 448.8h1.2M426.1 466.7h1.2M417.9 466.7h1.2M428.3 440.8h1.2M396.5 491.9h1.2M408.4 455.0h1.2M413.2 437.6h1.2M413.9 432.1h1.2M420.0 468.6h1.2M393.9 430.2h1.2M414.0 438.6h1.2M401.5 442.1h1.2M428.0 454.2h1.2M393.0 458.3h1.2M404.5 464.4h1.2M421.6 452.9h1.2M403.8 466.6h1.2M430.5 450.8h1.2M398.1 447.8h1.2M394.7 433.5h1.2M393.0 470.6h1.2M398.8 481.1h1.2M399.0 448.4h1.2M399.5 448.1h1.2M435.0 442.9h1.2M395.6 443.6h1.2M420.1 486.4h1.2M422.1 448.5h1.2M414.3 482.8h1.2M391.8 436.5h1.2M415.8 478.0h1.2M425.1 477.6h1.2M411.4 457.2h1.2M393.5 456.9h1.2M411.3 482.0h1.2M432.4 452.2h1.2M394.7 474.1h1.2M421.5 461.8h1.2M410.6 442.4h1.2M416.9 456.3h1.2M406.2 432.5h1.2M420.8 442.1h1.2M405.1 478.7h1.2M422.9 439.1h1.2M442.9 454.3h1.2M394.9 468.6h1.2M424.2 450.7h1.2M398.9 429.1h1.2M398.9 434.7h1.2M424.4 435.5h1.2M399.7 471.6h1.2M396.5 483.5h1.2M417.7 485.1h1.2M408.7 432.8h1.2M394.0 439.5h1.2M411.2 429.3h1.2M424.3 448.2h1.2M430.1 439.3h1.2M410.6 440.5h1.2M397.0 453.0h1.2M396.1 479.2h1.2M420.1 466.5h1.2M409.7 449.6h1.2M408.5 460.3h1.2M425.5 454.9h1.2M408.0 449.6h1.2M406.8 436.4h1.2M407.3 467.5h1.2M395.2 441.5h1.2M396.1 465.6h1.2M399.6 457.6h1.2M414.2 466.8h1.2M411.0 450.3h1.2M415.1 489.0h1.2M401.8 427.4h1.2M394.4 455.8h1.2M394.5 453.9h1.2M419.9 477.7h1.2M416.6 456.1h1.2M418.6 451.6h1.2M413.8 472.5h1.2M432.7 455.9h1.2M434.8 433.7h1.2M431.9 454.7h1.2M426.4 457.1h1.2M422.2 427.0h1.2M429.5 478.7h1.2M438.7 486.9h1.2M406.8 488.7h1.2M430.5 459.2h1.2M409.4 468.8h1.2M395.0 466.2h1.2M396.5 461.8h1.2M393.2 485.7h1.2M408.6 431.4h1.2M400.0 442.8h1.2M429.0 444.8h1.2M408.8 436.0h1.2M410.2 478.8h1.2M413.8 485.8h1.2M408.0 471.3h1.2M396.7 425.8h1.2M424.7 451.1h1.2M422.9 436.0h1.2M404.8 467.9h1.2M409.8 461.8h1.2M394.3 468.8h1.2M411.6 457.9h1.2M419.6 433.6h1.2M395.8 430.5h1.2M422.5 452.0h1.2M399.7 475.1h1.2M396.7 480.1h1.2M422.5 467.4h1.2M437.6 466.9h1.2M409.1 440.5h1.2M393.2 464.8h1.2M438.1 464.9h1.2M406.4 465.7h1.2M393.1 428.4h1.2M395.1 490.5h1.2M429.2 440.1h1.2M397.7 444.8h1.2M417.1 474.6h1.2M438.0 442.0h1.2M424.6 461.1h1.2M403.3 439.4h1.2M409.0 478.9h1.2M392.9 475.1h1.2M392.9 443.8h1.2M397.4 453.9h1.2M402.7 467.7h1.2M411.1 489.6h1.2M407.4 472.6h1.2M407.2 432.0h1.2M422.6 433.6h1.2M428.0 450.3h1.2M431.3 472.2h1.2M392.1 454.8h1.2M402.0 482.9h1.2M398.6 459.1h1.2M392.8 442.7h1.2M435.3 459.6h1.2M391.6 433.9h1.2M398.8 463.6h1.2M430.2 450.0h1.2M404.4 435.7h1.2M444.8 464.2h1.2M404.7 436.1h1.2M420.9 437.6h1.2M424.4 438.1h1.2M415.7 458.1h1.2M424.4 463.8h1.2M410.8 430.7h1.2M418.2 441.3h1.2M413.2 467.3h1.2M403.0 446.7h1.2M396.5 445.2h1.2M398.9 456.0h1.2M414.8 477.4h1.2M428.8 450.0h1.2M444.9 477.1h1.2M441.8 471.2h1.2M405.3 456.1h1.2M435.8 460.7h1.2M400.9 475.5h1.2M441.2 464.1h1.2M396.7 429.4h1.2M443.5 478.8h1.2M420.8 480.4h1.2M408.5 428.2h1.2M398.7 430.4h1.2M417.5 451.5h1.2M393.6 450.4h1.2M417.9 464.4h1.2M393.1 463.6h1.2M435.5 467.4h1.2M425.1 437.4h1.2M423.0 447.0h1.2M432.8 442.0h1.2M441.7 463.1h1.2M410.1 458.2h1.2M393.6 451.1h1.2M408.5 491.1h1.2M405.6 435.2h1.2M401.4 471.4h1.2M437.4 440.8h1.2M393.4 436.3h1.2M420.2 438.1h1.2M395.9 433.0h1.2M410.2 464.9h1.2M447.4 479.1h1.2M422.3 490.0h1.2M398.0 490.3h1.2M432.5 435.0h1.2M392.2 429.9h1.2M422.2 471.7h1.2M418.6 475.7h1.2M406.9 450.2h1.2M435.9 414.7h1.2M440.4 466.8h1.2M411.0 435.5h1.2M398.5 475.3h1.2M400.1 463.0h1.2M430.8 476.2h1.2M406.7 480.4h1.2M412.7 440.0h1.2M403.5 471.1h1.2M414.4 448.3h1.2M435.2 453.8h1.2M393.9 432.4h1.2M432.0 448.7h1.2M402.3 437.6h1.2M407.1 463.8h1.2M424.6 442.3h1.2M420.4 448.4h1.2M409.1 483.4h1.2M415.1 441.5h1.2M399.1 440.6h1.2M409.1 440.7h1.2M397.9 459.1h1.2M410.1 461.8h1.2M440.6 473.5h1.2M418.4 475.5h1.2M408.1 474.0h1.2M440.3 476.7h1.2M423.0 427.5h1.2M417.7 479.1h1.2M413.1 474.6h1.2M427.2 459.9h1.2M409.3 440.5h1.2M426.1 452.3h1.2M402.3 443.4h1.2M419.6 458.6h1.2M422.3 467.4h1.2M445.1 453.2h1.2M421.9 477.7h1.2M412.2 458.0h1.2M394.7 467.6h1.2M423.7 447.3h1.2M432.4 464.2h1.2M412.5 444.6h1.2M392.6 484.3h1.2M396.4 475.8h1.2M393.4 435.0h1.2M394.4 453.5h1.2M398.1 491.0h1.2M394.6 485.0h1.2M419.4 461.7h1.2M424.6 447.3h1.2M433.7 444.9h1.2M400.4 431.2h1.2M395.7 450.1h1.2M404.9 432.6h1.2M438.2 464.9h1.2M408.2 470.4h1.2M421.6 438.1h1.2M426.3 461.8h1.2M392.4 468.4h1.2M406.7 430.2h1.2M392.7 436.4h1.2M429.5 452.9h1.2M434.2 442.7h1.2M430.8 428.4h1.2M405.7 480.4h1.2M395.8 472.9h1.2M424.3 429.5h1.2M403.4 449.9h1.2M440.5 478.4h1.2M416.3 451.3h1.2M400.1 462.3h1.2M436.7 435.1h1.2M391.5 453.0h1.2M426.3 455.5h1.2M394.8 467.3h1.2M425.6 460.0h1.2M434.9 471.8h1.2M434.4 465.9h1.2M420.1 461.6h1.2M417.2 434.4h1.2M447.0 463.4h1.2M394.1 443.4h1.2M410.0 440.8h1.2M398.4 435.2h1.2M398.2 470.2h1.2M414.5 434.1h1.2M414.3 443.6h1.2M426.3 470.1h1.2M393.8 439.5h1.2M434.2 491.3h1.2M412.4 450.4h1.2M416.1 428.0h1.2M412.8 457.9h1.2M390.8 444.7h1.2M415.3 429.5h1.2M411.5 458.9h1.2M404.8 457.6h1.2M414.4 483.3h1.2M402.6 450.0h1.2M400.5 481.4h1.2M429.7 432.7h1.2M397.4 435.6h1.2M435.2 443.2h1.2M410.1 452.2h1.2M409.1 462.5h1.2M427.5 451.6h1.2M392.9 448.5h1.2M428.7 446.4h1.2M417.2 440.8h1.2M432.2 466.1h1.2M411.6 480.6h1.2M405.2 440.3h1.2M425.7 451.4h1.2M395.8 443.4h1.2M397.6 488.8h1.2M391.2 482.8h1.2M412.5 469.5h1.2M429.2 480.4h1.2M405.7 472.6h1.2M391.3 471.7h1.2M400.4 455.8h1.2M433.4 482.0h1.2M397.4 471.6h1.2M414.7 443.9h1.2M400.4 448.2h1.2M411.2 431.2h1.2M400.0 442.4h1.2M436.1 479.1h1.2M409.5 481.6h1.2M408.8 447.1h1.2M420.1 460.3h1.2M414.3 462.1h1.2M403.1 479.9h1.2M419.5 437.5h1.2M418.5 430.5h1.2M393.8 433.1h1.2M442.7 477.9h1.2M440.1 446.3h1.2M396.8 460.4h1.2M397.8 435.4h1.2M433.2 439.3h1.2M418.5 462.6h1.2M399.8 477.2h1.2M410.9 437.7h1.2M416.5 459.5h1.2M393.9 439.2h1.2M422.2 444.1h1.2M394.5 434.7h1.2M444.7 443.4h1.2M415.2 491.9h1.2M407.4 457.9h1.2M429.8 483.0h1.2M417.9 454.2h1.2M402.2 469.1h1.2M408.1 464.3h1.2M402.8 441.6h1.2M403.1 458.1h1.2M411.3 454.1h1.2M441.1 484.8h1.2M419.0 446.8h1.2M438.1 436.3h1.2M417.8 483.2h1.2M435.0 469.4h1.2M426.6 465.4h1.2M391.2 459.0h1.2M439.4 446.6h1.2M445.0 465.4h1.2M418.6 436.3h1.2M407.1 432.2h1.2M400.2 473.7h1.2M397.1 467.4h1.2M410.6 433.4h1.2M423.2 460.6h1.2M399.5 437.8h1.2M421.9 480.6h1.2M405.3 472.5h1.2M409.1 459.6h1.2M391.1 439.0h1.2M399.4 479.3h1.2M401.7 477.4h1.2M390.7 444.5h1.2M424.6 468.7h1.2M394.6 463.8h1.2M416.9 479.0h1.2M419.3 414.9h1.2M423.8 467.7h1.2M435.7 439.3h1.2M396.4 449.7h1.2M429.9 470.7h1.2M397.0 461.2h1.2M410.3 455.6h1.2M441.2 474.6h1.2M402.4 436.2h1.2M401.0 480.6h1.2M391.8 429.4h1.2M399.5 445.4h1.2M412.6 454.3h1.2M418.4 462.7h1.2M394.4 454.5h1.2M398.9 440.5h1.2M408.1 439.0h1.2M413.4 439.5h1.2M396.0 467.5h1.2M412.9 466.2h1.2M391.6 438.9h1.2M390.5 441.0h1.2M410.4 474.4h1.2M432.9 468.1h1.2M400.4 450.1h1.2M407.3 474.6h1.2M403.9 466.8h1.2M430.0 451.2h1.2M400.2 468.7h1.2M397.0 488.2h1.2M400.6 431.9h1.2M444.3 441.7h1.2M400.1 430.9h1.2M404.4 467.9h1.2M444.1 458.7h1.2M425.2 457.0h1.2M393.7 489.1h1.2M394.2 476.0h1.2M396.2 468.7h1.2M400.5 436.1h1.2M404.0 438.8h1.2M438.3 457.7h1.2M435.4 426.3h1.2M393.9 473.0h1.2M399.9 467.3h1.2M432.2 485.8h1.2M405.8 438.7h1.2M419.6 479.8h1.2M391.9 433.1h1.2M392.9 460.4h1.2M419.2 453.4h1.2M401.3 468.0h1.2M440.4 478.7h1.2M406.0 466.4h1.2M391.1 469.0h1.2M398.6 461.7h1.2M413.8 454.3h1.2M409.9 451.2h1.2M398.3 462.0h1.2M421.4 442.7h1.2M407.5 463.0h1.2M393.3 437.1h1.2M393.5 431.3h1.2M432.9 453.7h1.2M403.3 478.9h1.2M433.3 456.0h1.2M424.5 484.1h1.2M395.0 469.1h1.2M393.9 464.3h1.2M436.9 448.3h1.2M406.3 432.5h1.2M413.0 437.1h1.2M398.9 468.4h1.2M405.7 424.9h1.2M434.1 475.2h1.2M404.7 470.0h1.2M406.8 460.1h1.2M411.1 478.2h1.2M409.9 437.9h1.2M432.3 461.5h1.2M405.9 445.0h1.2M428.6 469.8h1.2M419.8 431.5h1.2M438.5 440.9h1.2M400.6 447.8h1.2M435.2 488.1h1.2M401.8 487.4h1.2M420.2 470.9h1.2M394.7 460.8h1.2M434.9 483.0h1.2M435.0 446.3h1.2M417.1 448.3h1.2M417.9 436.7h1.2M411.4 460.6h1.2M415.9 451.0h1.2M443.4 455.2h1.2M398.8 437.2h1.2M399.0 484.2h1.2M407.4 465.0h1.2M423.5 434.2h1.2M425.0 450.5h1.2M407.5 479.4h1.2M438.7 492.0h1.2M424.8 437.0h1.2M413.3 440.0h1.2M393.5 483.0h1.2M440.3 484.0h1.2M391.0 450.7h1.2M393.2 471.3h1.2M405.5 448.2h1.2M435.9 447.0h1.2M421.5 439.2h1.2M441.2 447.6h1.2M411.2 437.7h1.2M423.7 437.2h1.2M407.3 459.3h1.2M403.9 435.6h1.2M431.2 481.1h1.2M398.8 463.6h1.2M427.6 433.7h1.2M412.0 482.4h1.2M443.3 457.8h1.2M426.2 446.3h1.2M426.2 429.3h1.2M422.6 451.1h1.2M410.3 456.6h1.2M417.7 474.3h1.2M422.6 471.8h1.2M393.1 485.2h1.2M397.7 436.9h1.2M426.9 466.7h1.2M435.5 476.5h1.2M395.6 455.5h1.2M402.2 461.0h1.2M433.5 476.4h1.2M418.3 454.3h1.2M398.6 446.7h1.2M421.4 463.0h1.2M392.8 458.1h1.2M412.6 462.4h1.2M424.9 428.8h1.2M414.2 447.1h1.2M395.5 450.9h1.2M392.0 460.5h1.2M420.8 436.5h1.2M408.8 451.7h1.2M393.5 441.0h1.2M444.7 436.1h1.2M423.8 483.5h1.2M402.4 484.7h1.2M399.0 484.2h1.2M408.9 458.8h1.2M411.1 469.4h1.2M395.7 444.7h1.2M392.4 448.3h1.2M403.5 432.3h1.2M425.5 481.3h1.2M436.3 473.1h1.2M416.0 468.8h1.2M407.0 468.9h1.2M396.7 474.3h1.2M401.3 430.2h1.2M416.6 436.5h1.2M443.9 432.6h1.2M413.2 433.6h1.2M438.6 444.9h1.2M407.7 434.5h1.2M438.4 484.7h1.2M425.2 473.7h1.2M405.2 451.6h1.2M400.8 438.1h1.2M390.6 469.3h1.2M426.2 439.7h1.2M406.2 452.2h1.2M401.2 467.9h1.2M391.4 443.0h1.2M413.3 480.4h1.2M443.1 461.8h1.2M402.1 433.3h1.2M424.2 430.8h1.2M430.7 463.5h1.2M423.8 460.7h1.2M401.8 455.3h1.2M391.7 465.3h1.2M392.1 433.3h1.2M401.9 480.9h1.2M401.0 468.8h1.2M408.5 451.5h1.2M438.9 487.9h1.2M400.2 477.8h1.2M399.9 480.4h1.2M392.4 489.5h1.2M401.7 470.9h1.2M398.6 452.8h1.2M403.6 435.0h1.2M423.8 491.4h1.2M392.7 464.5h1.2M403.8 444.5h1.2M433.9 451.2h1.2M396.5 454.7h1.2M433.8 482.0h1.2M446.8 449.3h1.2M394.4 475.2h1.2M401.2 447.3h1.2M424.3 464.4h1.2M436.9 442.4h1.2M433.5 481.5h1.2M440.2 468.4h1.2M392.1 452.4h1.2M445.0 468.4h1.2M441.8 454.2h1.2M406.0 434.5h1.2M398.7 451.5h1.2M425.9 467.7h1.2M415.0 438.3h1.2M423.3 469.9h1.2M410.8 479.5h1.2M402.4 468.1h1.2M443.0 470.2h1.2M410.5 439.8h1.2M422.5 433.8h1.2M411.2 448.5h1.2M402.6 454.6h1.2M419.0 456.1h1.2M425.1 437.9h1.2M423.6 436.5h1.2M405.2 481.0h1.2M432.0 428.3h1.2M427.5 470.0h1.2M422.5 461.1h1.2M404.1 485.9h1.2M423.3 467.0h1.2M417.4 460.2h1.2M421.2 454.9h1.2M392.7 435.5h1.2M417.2 437.6h1.2M412.2 488.8h1.2M420.9 461.4h1.2M424.4 447.8h1.2M390.8 456.0h1.2M411.5 462.8h1.2M406.3 442.3h1.2M393.5 437.9h1.2M445.8 470.6h1.2M412.0 474.6h1.2M402.7 432.3h1.2M399.7 436.9h1.2M410.7 488.4h1.2M410.8 435.5h1.2M414.9 448.2h1.2M438.4 490.5h1.2M428.2 477.1h1.2M401.7 465.0h1.2M403.3 445.6h1.2M393.1 442.1h1.2M405.3 468.8h1.2M428.7 439.4h1.2M423.0 462.4h1.2M439.9 467.3h1.2M390.6 448.2h1.2M444.7 453.1h1.2M410.4 446.2h1.2M416.2 453.4h1.2M417.8 468.6h1.2M411.1 461.1h1.2M402.6 451.4h1.2M393.6 432.7h1.2M406.9 431.6h1.2M438.9 490.7h1.2M439.2 446.4h1.2M428.9 467.4h1.2M426.0 459.5h1.2M424.3 433.8h1.2M395.7 482.6h1.2M398.2 476.6h1.2M398.4 446.8h1.2M412.5 488.3h1.2M432.4 458.5h1.2M395.0 447.8h1.2M404.3 443.1h1.2M396.9 425.3h1.2M400.8 441.7h1.2M396.6 426.7h1.2M392.5 466.1h1.2M412.5 473.2h1.2M413.5 456.5h1.2M393.1 435.9h1.2M390.9 461.7h1.2M393.7 474.0h1.2M414.5 441.2h1.2M399.0 431.2h1.2M399.8 477.8h1.2M431.8 487.8h1.2M434.0 480.4h1.2M412.6 453.3h1.2M411.0 464.2h1.2M414.9 440.4h1.2M401.8 478.6h1.2M398.7 456.8h1.2M411.1 473.1h1.2M417.4 479.2h1.2M399.5 447.5h1.2M437.4 463.0h1.2M423.3 445.8h1.2M402.2 469.3h1.2M447.3 464.9h1.2M424.5 449.5h1.2M392.6 470.2h1.2M422.6 457.5h1.2M434.2 479.3h1.2M434.7 473.4h1.2M434.7 483.6h1.2M394.4 492.2h1.2M396.4 451.3h1.2M393.0 485.3h1.2M427.3 478.6h1.2M396.4 430.6h1.2M432.1 458.6h1.2M410.1 466.3h1.2M430.1 434.3h1.2M397.9 460.9h1.2M399.3 444.1h1.2M427.9 462.3h1.2M430.5 431.9h1.2M407.0 439.2h1.2M403.3 444.6h1.2M394.7 444.0h1.2M414.6 469.4h1.2M397.9 431.9h1.2M392.5 440.1h1.2M427.7 454.1h1.2M413.6 442.0h1.2M427.7 467.6h1.2M438.3 471.9h1.2M411.8 464.4h1.2M409.6 461.6h1.2M405.1 444.7h1.2M406.1 461.9h1.2M436.3 457.1h1.2M408.3 432.1h1.2M408.7 426.2h1.2M440.3 461.1h1.2M424.6 492.1h1.2M406.7 443.7h1.2M409.4 439.5h1.2M401.4 470.4h1.2M440.3 434.6h1.2M399.4 457.8h1.2M423.2 462.3h1.2M402.2 458.3h1.2M430.6 476.3h1.2M433.2 452.6h1.2M421.9 470.9h1.2M400.5 434.6h1.2M418.6 446.7h1.2M411.4 450.3h1.2M390.4 441.8h1.2M424.1 453.5h1.2M434.9 453.4h1.2M428.5 474.1h1.2M416.6 457.0h1.2M395.8 442.3h1.2M400.3 479.1h1.2M393.4 453.3h1.2M417.3 477.0h1.2M408.1 441.5h1.2M420.3 488.9h1.2M394.9 429.9h1.2M407.1 428.1h1.2M433.2 472.4h1.2M411.3 458.9h1.2M395.6 442.8h1.2M426.7 467.1h1.2M421.9 451.8h1.2M395.4 457.4h1.2M403.1 439.0h1.2M432.7 469.9h1.2M409.4 445.5h1.2M428.5 479.8h1.2M420.4 443.7h1.2M424.1 476.5h1.2M413.1 483.7h1.2M428.1 442.4h1.2M423.9 467.8h1.2M425.5 452.9h1.2M414.9 428.2h1.2M433.1 443.5h1.2M430.5 472.5h1.2M432.5 442.1h1.2M403.2 469.4h1.2M402.6 441.7h1.2M439.3 444.9h1.2M402.1 458.5h1.2M400.3 455.1h1.2M393.9 455.3h1.2M413.1 446.5h1.2M393.8 443.0h1.2M411.0 450.9h1.2M408.5 438.0h1.2M395.6 437.9h1.2M420.0 456.2h1.2M391.5 458.7h1.2M412.4 481.9h1.2M438.7 448.0h1.2M416.2 468.9h1.2M443.2 442.5h1.2M423.5 471.3h1.2M434.9 461.4h1.2M435.5 486.1h1.2M405.4 435.3h1.2M404.6 454.4h1.2M409.0 444.9h1.2M438.5 470.9h1.2M408.7 433.3h1.2M406.0 448.1h1.2M415.2 454.3h1.2M411.5 468.2h1.2M400.5 448.1h1.2M441.2 437.5h1.2M422.0 469.5h1.2M394.8 443.9h1.2M400.9 448.9h1.2M424.8 450.8h1.2M413.0 450.1h1.2M408.2 467.0h1.2M440.7 468.1h1.2M406.7 469.7h1.2M414.0 464.4h1.2M439.5 439.2h1.2M402.4 442.8h1.2M410.0 452.3h1.2M415.1 455.6h1.2M399.8 441.3h1.2M444.1 440.2h1.2M390.7 447.0h1.2M398.8 442.4h1.2M396.4 476.6h1.2M405.2 454.5h1.2M431.8 490.9h1.2M398.5 451.6h1.2M423.4 456.8h1.2M423.2 455.4h1.2M425.4 454.5h1.2M434.1 437.9h1.2M406.5 428.7h1.2M408.5 440.9h1.2M407.4 462.3h1.2M414.2 447.1h1.2M408.5 445.2h1.2M410.1 436.5h1.2M399.2 458.6h1.2M394.8 461.0h1.2M420.3 461.6h1.2M413.2 457.5h1.2M397.7 486.8h1.2M434.9 463.4h1.2M422.7 475.7h1.2M425.4 423.1h1.2M446.3 477.4h1.2M391.4 465.5h1.2M391.8 458.8h1.2M414.1 441.6h1.2M397.7 475.9h1.2M417.3 442.8h1.2M398.3 451.4h1.2M391.2 475.6h1.2M400.4 459.0h1.2M426.4 488.1h1.2M401.2 449.0h1.2M394.4 467.6h1.2M438.7 475.7h1.2M400.7 460.1h1.2M393.8 487.7h1.2M403.8 457.7h1.2M410.0 464.7h1.2M421.8 480.7h1.2M401.4 454.2h1.2M426.1 483.2h1.2M403.3 430.3h1.2M402.9 453.1h1.2M420.0 446.5h1.2M406.6 428.8h1.2M420.5 436.8h1.2M390.5 446.3h1.2M398.3 459.3h1.2M395.1 440.2h1.2M403.6 469.9h1.2M438.2 441.6h1.2M416.2 472.7h1.2M399.5 469.4h1.2M434.7 451.5h1.2M419.7 425.3h1.2M403.3 474.9h1.2M390.8 423.0h1.2M404.4 459.1h1.2M408.2 485.5h1.2M390.6 481.3h1.2M440.9 472.9h1.2M413.0 465.7h1.2M393.0 458.7h1.2M417.2 453.6h1.2M420.1 454.1h1.2M408.9 437.6h1.2M402.1 450.1h1.2M405.3 443.2h1.2M423.1 476.7h1.2M443.7 445.1h1.2M403.5 432.9h1.2M392.6 436.6h1.2M420.2 461.0h1.2M411.2 462.7h1.2M407.0 482.3h1.2M431.9 480.5h1.2M393.8 460.2h1.2M414.3 462.3h1.2M392.1 459.2h1.2M409.4 451.6h1.2M416.6 478.1h1.2M395.7 431.7h1.2M417.5 436.4h1.2M398.8 442.5h1.2M406.6 433.5h1.2M436.1 470.9h1.2M413.8 441.5h1.2M416.4 435.3h1.2M424.4 439.5h1.2M409.8 489.9h1.2M404.3 474.5h1.2M421.6 415.8h1.2M424.4 472.2h1.2M412.2 452.9h1.2M417.3 466.1h1.2M398.8 459.5h1.2M398.7 485.6h1.2M439.3 465.5h1.2M425.0 487.8h1.2M424.2 465.0h1.2M411.5 444.7h1.2M439.3 453.2h1.2M421.4 441.2h1.2M403.7 457.1h1.2M409.3 465.3h1.2M412.5 438.4h1.2M410.9 448.4h1.2M402.9 468.7h1.2M415.8 445.4h1.2M396.6 447.1h1.2M445.5 477.6h1.2M430.8 481.9h1.2M417.1 483.9h1.2M395.8 435.8h1.2M412.6 454.4h1.2M396.7 469.7h1.2M409.2 452.3h1.2M422.9 474.7h1.2M408.5 462.4h1.2M423.5 445.8h1.2M399.7 463.9h1.2M412.7 441.2h1.2M423.2 429.3h1.2M438.8 483.6h1.2M418.7 462.3h1.2M428.5 456.0h1.2M406.2 451.7h1.2M397.2 474.8h1.2M391.7 446.4h1.2M397.4 433.8h1.2M397.9 451.5h1.2M412.7 451.5h1.2M400.6 466.3h1.2M442.9 438.0h1.2M395.6 448.9h1.2M395.0 445.6h1.2M397.2 444.8h1.2M395.6 475.1h1.2M401.8 466.7h1.2M414.7 448.9h1.2M392.7 479.7h1.2M414.8 462.6h1.2M413.7 473.1h1.2M435.5 453.0h1.2M412.3 468.3h1.2M399.1 444.1h1.2M399.4 438.6h1.2M407.4 458.8h1.2M420.0 476.9h1.2M408.3 466.3h1.2M425.2 488.1h1.2M398.0 440.9h1.2M407.8 436.1h1.2M413.9 463.4h1.2M393.0 431.7h1.2M432.2 461.3h1.2M422.5 429.2h1.2M404.4 465.9h1.2M438.5 450.7h1.2M404.2 439.4h1.2M421.9 482.8h1.2M392.2 431.8h1.2M400.0 486.8h1.2M394.4 431.9h1.2M414.7 489.1h1.2M403.7 459.7h1.2M399.1 461.9h1.2M410.1 477.8h1.2M405.6 439.4h1.2M392.5 457.8h1.2M392.0 452.9h1.2M412.8 440.6h1.2M417.6 467.4h1.2M439.3 462.1h1.2M408.1 447.6h1.2M407.6 475.5h1.2M401.9 440.4h1.2M412.9 449.8h1.2M414.1 456.9h1.2M405.0 444.9h1.2M441.5 478.3h1.2M394.1 463.8h1.2M413.2 469.8h1.2M432.0 465.4h1.2M391.9 462.9h1.2M390.6 451.8h1.2M432.2 454.1h1.2M411.6 492.1h1.2M401.6 475.2h1.2M399.0 474.1h1.2M392.2 457.7h1.2M417.6 429.0h1.2M437.8 440.0h1.2M423.9 470.1h1.2M407.8 435.0h1.2M434.0 470.7h1.2M415.2 463.6h1.2M414.6 471.5h1.2M410.9 447.8h1.2M426.6 478.9h1.2M390.7 467.6h1.2M403.1 486.6h1.2M435.7 471.4h1.2M418.6 472.0h1.2M397.2 483.1h1.2M437.1 480.8h1.2M439.7 485.6h1.2M406.6 452.9h1.2M406.4 468.4h1.2M439.9 441.7h1.2M413.5 430.4h1.2M404.3 461.1h1.2M397.2 443.2h1.2M393.5 487.7h1.2M429.7 465.7h1.2M402.5 450.3h1.2M421.3 459.6h1.2M400.6 431.3h1.2M397.8 462.9h1.2M412.7 487.1h1.2M408.4 439.7h1.2M391.6 446.6h1.2M418.7 436.6h1.2M425.6 431.8h1.2M392.0 451.8h1.2M398.7 431.3h1.2M425.8 455.0h1.2M403.3 442.4h1.2M420.6 467.4h1.2M410.3 476.6h1.2M423.4 481.9h1.2M410.1 462.2h1.2M423.2 482.2h1.2M440.1 490.0h1.2M435.8 469.0h1.2M398.3 440.6h1.2M401.7 484.1h1.2M422.0 468.4h1.2M411.6 444.2h1.2M398.1 453.9h1.2M437.3 486.7h1.2M427.5 461.0h1.2M428.5 435.1h1.2M410.6 434.4h1.2M444.7 467.0h1.2M425.8 434.2h1.2M399.8 446.1h1.2M418.6 430.1h1.2M438.2 450.5h1.2M439.4 483.2h1.2M440.3 471.9h1.2M419.6 466.7h1.2M391.2 470.4h1.2M391.7 481.8h1.2M398.8 486.0h1.2M415.2 464.0h1.2M442.2 445.5h1.2M397.7 439.8h1.2M410.6 490.7h1.2M417.2 421.8h1.2M396.4 468.2h1.2M405.9 482.9h1.2M434.7 461.6h1.2M397.3 461.2h1.2M403.3 462.7h1.2M437.3 469.2h1.2M423.2 462.7h1.2M426.7 442.0h1.2M446.4 455.0h1.2M442.5 488.7h1.2M417.3 434.5h1.2M439.0 461.6h1.2M424.7 444.5h1.2M413.8 444.9h1.2M394.9 472.1h1.2M423.9 437.4h1.2M424.3 464.4h1.2M397.3 427.2h1.2M427.6 439.0h1.2M430.3 447.5h1.2M438.9 430.6h1.2M392.4 442.4h1.2M444.0 459.6h1.2M399.8 462.6h1.2M409.0 455.0h1.2M397.1 471.8h1.2M390.9 466.8h1.2M397.5 482.4h1.2M426.5 437.2h1.2M410.8 459.3h1.2M414.9 473.1h1.2M399.4 431.4h1.2M403.2 475.1h1.2M439.8 424.9h1.2M406.4 479.2h1.2M420.2 439.1h1.2M440.2 479.5h1.2M447.0 478.0h1.2M432.6 439.7h1.2M398.9 475.8h1.2M393.0 455.5h1.2M438.7 455.8h1.2M436.6 483.0h1.2M409.4 483.1h1.2M442.8 441.0h1.2M405.2 464.9h1.2M393.5 480.9h1.2M411.2 453.9h1.2M411.2 457.4h1.2M440.5 478.3h1.2M400.3 473.9h1.2M407.0 455.5h1.2M436.8 463.8h1.2M400.5 469.3h1.2M424.7 450.1h1.2M429.6 446.8h1.2M436.0 450.8h1.2M410.3 480.2h1.2M411.1 456.0h1.2M426.1 476.8h1.2M422.3 464.9h1.2M407.1 484.2h1.2M413.5 439.1h1.2M411.2 445.7h1.2M411.7 431.0h1.2M441.6 456.8h1.2M433.5 437.4h1.2M403.4 489.2h1.2M446.3 491.5h1.2M418.4 475.6h1.2M438.0 432.5h1.2M430.2 466.2h1.2M420.7 436.5h1.2M419.8 437.9h1.2M446.0 479.6h1.2M420.3 433.4h1.2M428.7 455.8h1.2M411.0 461.0h1.2M415.3 485.8h1.2M393.0 473.6h1.2M413.0 483.3h1.2M414.7 456.4h1.2M394.0 469.8h1.2M395.8 449.3h1.2M434.6 436.7h1.2M407.5 453.1h1.2M414.9 447.5h1.2M418.6 454.0h1.2M433.9 449.1h1.2M437.6 435.8h1.2M444.6 472.4h1.2M404.6 450.3h1.2M428.0 486.9h1.2M400.7 452.7h1.2M439.5 478.7h1.2M409.6 471.3h1.2M395.1 453.0h1.2M446.0 464.0h1.2M406.5 455.3h1.2M410.9 457.8h1.2M427.3 433.8h1.2M394.2 437.9h1.2M429.2 448.2h1.2M405.4 444.1h1.2M396.0 431.2h1.2M418.9 453.4h1.2M406.0 435.1h1.2M414.6 449.1h1.2M405.6 453.1h1.2M391.1 446.9h1.2M412.1 458.6h1.2M429.7 477.3h1.2M418.7 436.1h1.2M438.7 442.0h1.2M400.3 450.7h1.2M428.0 449.3h1.2M406.7 466.8h1.2M405.3 450.9h1.2M406.0 450.3h1.2M438.7 445.7h1.2M395.8 463.8h1.2M440.2 443.4h1.2M399.1 465.4h1.2M403.0 492.2h1.2M418.6 445.7h1.2M439.5 472.1h1.2M396.8 483.6h1.2M407.6 437.4h1.2M423.2 434.4h1.2M402.1 432.8h1.2M392.3 474.9h1.2M434.7 454.2h1.2M406.9 432.3h1.2M397.3 460.7h1.2M421.1 447.2h1.2M400.2 435.8h1.2M440.0 454.4h1.2M418.6 438.4h1.2M396.6 458.4h1.2M398.8 489.5h1.2M423.6 433.9h1.2M422.8 459.3h1.2M402.7 430.9h1.2M394.9 468.7h1.2M419.7 474.6h1.2M435.4 480.5h1.2M405.8 429.6h1.2M437.0 461.9h1.2M419.2 438.3h1.2M404.2 453.5h1.2M401.6 474.2h1.2M396.8 457.8h1.2M422.4 465.6h1.2M419.4 471.5h1.2M434.5 434.2h1.2M397.2 430.1h1.2M419.3 454.6h1.2M410.3 447.3h1.2M414.8 467.9h1.2M414.2 457.3h1.2M412.6 445.2h1.2M398.0 453.8h1.2M436.6 455.5h1.2M421.2 469.0h1.2M416.3 460.5h1.2M393.8 454.3h1.2M439.9 441.6h1.2M420.0 434.0h1.2M405.2 486.8h1.2M406.5 438.9h1.2M419.1 437.7h1.2M391.0 435.8h1.2M410.6 441.0h1.2M416.1 481.4h1.2M397.1 472.9h1.2M418.1 479.3h1.2M397.2 435.3h1.2M417.0 444.5h1.2M443.0 435.8h1.2M413.9 477.2h1.2M404.9 457.3h1.2M417.5 438.4h1.2M437.7 429.6h1.2M391.9 463.7h1.2M422.5 444.5h1.2M413.7 436.9h1.2M395.6 445.2h1.2M396.4 483.2h1.2M404.4 468.6h1.2M424.2 475.2h1.2M403.7 478.5h1.2M412.9 446.4h1.2M398.3 429.7h1.2M425.3 455.4h1.2M417.1 444.5h1.2M439.1 451.5h1.2M395.5 474.4h1.2M418.1 435.2h1.2M400.3 458.2h1.2M400.5 469.1h1.2M437.1 465.2h1.2M401.7 447.4h1.2M398.5 462.4h1.2M412.4 453.2h1.2M396.9 433.0h1.2M397.3 434.6h1.2M404.6 456.1h1.2M409.7 459.2h1.2M394.9 487.9h1.2M413.1 459.5h1.2M418.5 435.9h1.2M393.0 441.0h1.2M396.4 449.8h1.2M440.5 463.6h1.2M437.5 446.1h1.2M397.7 434.9h1.2M399.3 423.1h1.2M427.3 444.0h1.2M393.8 457.7h1.2M412.3 439.7h1.2M444.5 441.5h1.2M405.1 452.3h1.2M393.8 453.9h1.2M407.1 434.1h1.2M441.4 470.9h1.2M411.3 434.9h1.2M427.1 483.9h1.2M395.4 430.6h1.2M412.2 440.8h1.2M406.8 441.9h1.2M418.9 450.2h1.2M396.5 464.0h1.2M438.6 483.4h1.2M420.8 445.6h1.2M404.2 464.0h1.2M392.2 475.5h1.2M395.6 471.2h1.2M398.2 443.3h1.2M410.1 478.1h1.2M409.7 454.7h1.2M395.7 486.3h1.2M432.4 450.2h1.2M404.6 437.0h1.2M390.9 455.2h1.2M420.8 457.5h1.2M425.4 442.7h1.2M406.0 445.1h1.2M411.9 433.8h1.2M393.9 469.7h1.2M447.4 467.8h1.2M428.6 480.2h1.2M423.5 488.4h1.2M411.9 432.7h1.2M440.7 440.7h1.2M432.2 458.6h1.2M425.5 463.1h1.2M412.7 469.5h1.2M408.2 439.4h1.2M399.5 437.6h1.2M400.9 451.9h1.2M412.4 465.6h1.2M397.9 433.2h1.2M422.3 472.0h1.2M430.2 455.2h1.2M401.3 448.0h1.2M397.4 438.3h1.2M403.9 444.8h1.2M403.1 482.0h1.2M440.0 437.8h1.2M396.9 429.6h1.2M443.0 434.4h1.2M396.1 457.1h1.2M417.1 463.4h1.2M413.4 491.0h1.2M408.6 443.0h1.2M416.7 450.7h1.2M421.4 441.7h1.2M404.4 436.4h1.2M406.1 471.7h1.2M406.6 440.7h1.2M406.9 465.1h1.2M395.2 452.6h1.2M401.9 446.9h1.2M410.7 442.5h1.2M420.6 477.9h1.2M401.1 452.5h1.2M439.1 491.1h1.2M426.4 477.3h1.2M407.7 435.7h1.2M428.8 445.1h1.2M400.6 432.0h1.2M439.7 454.9h1.2M441.5 469.8h1.2M421.6 422.0h1.2M431.9 434.7h1.2M397.4 458.8h1.2M434.4 459.7h1.2M419.5 482.3h1.2M415.0 481.0h1.2M402.0 448.8h1.2M436.9 467.3h1.2M405.9 442.0h1.2M393.9 456.5h1.2M390.9 446.2h1.2M437.3 438.1h1.2M421.0 460.7h1.2M430.4 469.4h1.2M428.1 462.6h1.2M442.6 474.4h1.2M433.4 447.7h1.2M391.5 476.8h1.2M420.5 474.9h1.2M441.5 442.2h1.2M406.9 471.3h1.2M421.0 487.5h1.2M407.2 485.6h1.2M428.3 485.8h1.2M432.3 441.5h1.2M409.2 481.2h1.2M401.2 485.3h1.2M399.5 433.5h1.2M393.8 459.8h1.2M422.2 449.1h1.2M410.6 433.8h1.2M403.9 440.4h1.2M395.5 470.4h1.2M428.4 451.3h1.2M439.7 445.2h1.2M393.8 450.4h1.2M407.0 425.5h1.2M409.6 473.2h1.2M423.4 453.6h1.2M392.4 472.4h1.2M437.7 470.4h1.2M401.3 456.5h1.2M395.4 440.5h1.2M440.0 483.7h1.2M407.2 452.9h1.2M421.8 454.6h1.2M407.2 478.8h1.2M402.2 440.7h1.2M402.6 457.6h1.2M410.7 431.7h1.2M415.1 454.1h1.2M421.3 437.3h1.2M418.0 432.4h1.2M406.3 476.4h1.2M442.6 478.6h1.2M408.5 480.4h1.2M402.7 482.5h1.2M405.7 468.2h1.2M392.3 450.0h1.2M423.7 438.1h1.2M414.1 435.5h1.2M430.6 469.7h1.2M414.1 460.3h1.2M404.1 445.6h1.2M429.3 487.2h1.2M399.5 479.9h1.2M428.4 444.1h1.2M426.4 460.1h1.2M407.2 455.4h1.2M396.0 451.6h1.2M395.5 436.6h1.2M437.5 469.4h1.2M438.6 450.2h1.2M412.3 450.2h1.2M420.7 440.7h1.2M426.1 452.3h1.2M433.2 462.7h1.2M436.2 475.7h1.2M445.7 467.5h1.2M439.5 483.6h1.2M422.9 473.3h1.2M420.9 467.4h1.2M440.2 429.6h1.2M413.8 455.7h1.2M442.8 478.4h1.2M396.3 471.4h1.2M398.5 446.1h1.2M434.8 465.5h1.2M426.6 476.9h1.2M423.2 463.2h1.2M432.1 452.1h1.2M394.6 463.7h1.2M445.1 461.5h1.2M425.9 444.7h1.2M413.7 433.9h1.2M395.5 477.7h1.2M398.5 439.9h1.2M425.7 482.0h1.2M441.2 440.8h1.2M395.7 479.9h1.2M441.0 471.2h1.2M392.0 463.2h1.2M429.3 447.5h1.2M429.3 476.6h1.2M401.2 474.5h1.2M413.0 429.6h1.2M394.3 446.6h1.2M440.6 436.1h1.2M392.5 476.3h1.2M401.5 461.8h1.2M413.4 467.6h1.2M401.6 440.6h1.2M394.2 472.3h1.2M414.9 488.8h1.2M426.5 443.1h1.2M413.5 456.6h1.2M436.3 473.4h1.2M396.9 492.0h1.2M407.4 443.8h1.2M429.9 433.7h1.2M420.8 446.3h1.2M393.1 462.4h1.2M418.0 454.6h1.2M421.2 454.2h1.2M443.7 482.5h1.2M414.8 468.8h1.2M419.4 490.9h1.2M437.0 433.0h1.2M433.2 451.6h1.2M395.7 451.7h1.2M411.4 491.3h1.2M411.8 434.7h1.2M413.8 458.0h1.2M417.3 483.3h1.2M436.9 483.9h1.2M425.4 446.0h1.2M392.4 473.9h1.2M430.4 436.2h1.2M418.6 459.9h1.2M440.1 449.1h1.2M424.1 463.7h1.2M414.2 476.6h1.2M402.0 484.1h1.2M405.7 469.5h1.2M393.1 462.4h1.2M428.5 448.2h1.2M413.6 435.6h1.2M427.5 437.9h1.2M393.0 465.9h1.2M394.6 470.3h1.2M393.8 471.4h1.2M410.1 479.3h1.2M392.6 428.0h1.2M412.8 464.4h1.2M407.4 456.0h1.2M415.2 456.2h1.2M407.2 431.6h1.2M425.1 436.6h1.2M394.5 418.8h1.2M410.3 481.4h1.2M411.8 461.7h1.2M395.6 445.9h1.2M416.7 475.5h1.2M392.0 450.9h1.2M442.1 442.8h1.2M440.7 479.8h1.2M401.3 457.5h1.2M394.7 431.1h1.2M431.2 449.4h1.2M411.7 448.3h1.2M399.2 482.3h1.2M395.1 447.8h1.2M440.1 477.2h1.2M400.9 446.7h1.2M395.7 483.3h1.2M431.3 438.5h1.2M402.8 460.0h1.2M446.4 448.6h1.2M415.3 458.8h1.2M438.4 475.1h1.2M441.3 461.4h1.2M398.9 428.2h1.2M394.5 443.5h1.2M426.4 477.0h1.2M395.2 439.8h1.2M423.6 444.2h1.2M419.3 453.2h1.2M396.2 430.5h1.2M424.2 461.5h1.2M396.0 460.2h1.2M395.3 438.8h1.2M437.7 430.5h1.2M437.3 443.5h1.2M409.8 434.2h1.2M427.6 436.2h1.2M405.5 478.6h1.2M427.5 486.5h1.2M400.2 470.9h1.2M399.8 462.5h1.2M414.0 453.6h1.2M443.1 471.2h1.2M426.9 453.1h1.2M396.9 452.5h1.2M434.3 439.4h1.2M394.1 459.0h1.2M399.3 464.3h1.2M393.9 431.5h1.2M394.8 424.1h1.2M398.8 430.6h1.2M438.4 455.7h1.2M398.4 436.5h1.2M427.3 471.8h1.2M396.9 451.3h1.2M408.9 450.6h1.2M409.6 432.4h1.2M413.0 469.4h1.2M413.5 480.0h1.2M397.6 452.5h1.2M417.2 475.0h1.2M403.2 433.1h1.2M440.0 446.0h1.2M422.9 431.7h1.2M397.5 454.1h1.2M429.3 469.2h1.2M434.4 443.9h1.2M409.0 483.7h1.2M397.8 471.7h1.2M401.9 466.2h1.2M412.1 452.4h1.2M428.3 459.2h1.2M434.5 455.2h1.2M423.3 466.6h1.2M419.7 474.7h1.2M425.1 480.3h1.2M435.6 474.9h1.2M405.8 456.4h1.2M430.1 443.3h1.2M432.2 447.7h1.2M439.1 449.2h1.2M393.9 484.9h1.2M436.5 482.8h1.2M422.4 469.0h1.2M410.4 456.6h1.2M402.9 477.0h1.2M445.1 451.6h1.2M422.4 470.3h1.2M421.4 484.4h1.2M399.4 462.3h1.2M437.9 450.0h1.2M404.3 459.1h1.2M415.6 436.5h1.2M400.6 450.1h1.2M391.5 431.1h1.2M442.3 484.5h1.2M398.8 472.0h1.2M417.4 481.3h1.2M436.2 480.4h1.2M430.7 456.4h1.2M399.1 482.5h1.2M397.1 443.2h1.2M429.1 485.7h1.2M408.0 476.9h1.2M404.1 477.3h1.2M397.7 431.2h1.2M392.5 451.9h1.2M406.8 486.5h1.2M393.3 437.0h1.2M398.2 437.7h1.2M395.8 435.8h1.2M394.2 455.4h1.2M410.7 473.3h1.2M399.9 438.1h1.2M428.2 436.1h1.2M411.0 440.7h1.2M441.3 443.6h1.2M395.1 458.9h1.2M435.0 440.3h1.2M397.0 475.9h1.2M434.7 480.3h1.2M409.4 435.9h1.2M419.5 448.6h1.2M435.9 479.9h1.2M415.4 448.6h1.2M418.3 429.8h1.2M432.4 440.5h1.2M415.4 440.0h1.2M394.6 474.6h1.2M394.5 431.2h1.2M405.0 469.3h1.2M411.3 473.7h1.2M411.6 444.4h1.2M422.6 428.4h1.2M403.9 436.5h1.2M407.1 447.2h1.2M434.9 490.8h1.2M441.4 482.4h1.2M439.5 470.2h1.2M444.7 445.9h1.2M410.5 472.3h1.2M394.6 474.8h1.2M403.1 477.4h1.2M420.8 436.5h1.2M391.0 453.2h1.2M392.3 459.6h1.2M435.1 430.6h1.2M405.6 448.5h1.2M393.4 479.2h1.2M403.5 434.1h1.2M422.8 454.7h1.2M401.5 458.5h1.2M393.8 436.2h1.2M433.6 445.4h1.2M421.0 444.2h1.2M393.6 480.9h1.2M390.7 490.2h1.2M398.9 435.6h1.2M399.7 445.3h1.2M401.3 475.7h1.2M399.9 433.2h1.2M406.5 485.9h1.2M422.5 454.9h1.2M433.7 472.5h1.2M421.9 483.7h1.2M439.6 456.3h1.2M411.8 471.2h1.2M423.9 441.8h1.2M428.4 437.1h1.2M426.8 460.4h1.2M394.6 436.4h1.2M408.8 476.5h1.2M428.6 444.1h1.2M410.7 472.7h1.2M403.6 471.9h1.2M400.4 458.0h1.2M406.0 463.4h1.2M425.2 479.4h1.2M412.1 461.9h1.2M405.2 448.2h1.2M423.3 480.9h1.2M420.5 452.4h1.2M403.9 462.3h1.2M414.7 479.2h1.2M434.9 470.4h1.2M434.8 442.9h1.2M398.7 453.3h1.2M418.7 448.6h1.2M421.8 429.0h1.2M391.7 428.3h1.2M398.6 454.8h1.2M436.3 480.2h1.2M445.2 443.6h1.2M422.1 456.7h1.2M427.8 471.7h1.2M442.8 454.9h1.2M412.0 491.8h1.2M404.1 444.7h1.2M407.0 425.2h1.2M398.6 468.1h1.2M403.9 479.7h1.2M432.3 451.8h1.2M441.9 456.8h1.2M402.0 474.4h1.2M404.4 462.2h1.2M402.9 439.4h1.2M392.2 476.9h1.2M417.5 465.2h1.2M427.7 451.7h1.2M435.9 486.1h1.2M394.5 451.1h1.2M397.8 479.6h1.2M428.6 442.5h1.2M428.8 478.8h1.2M403.3 466.4h1.2M420.2 433.8h1.2M391.4 449.1h1.2M412.1 470.3h1.2M439.1 432.1h1.2M412.5 477.7h1.2M425.5 478.6h1.2M418.8 452.4h1.2M393.0 444.8h1.2M433.5 439.7h1.2M392.0 456.1h1.2M429.3 449.4h1.2M425.6 432.1h1.2M428.9 477.1h1.2M403.3 458.9h1.2M410.3 443.2h1.2M441.7 462.5h1.2M421.9 485.1h1.2M393.5 459.6h1.2M415.8 435.4h1.2M414.9 454.9h1.2M412.6 468.1h1.2M406.9 490.3h1.2M412.4 469.9h1.2M420.4 449.8h1.2M398.2 471.3h1.2M425.4 442.2h1.2M425.3 474.3h1.2M391.8 489.5h1.2M432.4 458.4h1.2M405.8 456.0h1.2M402.1 447.7h1.2M413.4 431.0h1.2M431.3 435.9h1.2M411.1 449.4h1.2M427.8 445.1h1.2M421.3 483.8h1.2M400.0 448.7h1.2M443.0 456.3h1.2M429.2 487.8h1.2M411.6 450.7h1.2M414.1 456.1h1.2M394.6 438.6h1.2M447.2 431.9h1.2M418.7 441.9h1.2M427.9 467.8h1.2M395.5 429.0h1.2M414.8 452.1h1.2M424.9 458.1h1.2M400.0 463.0h1.2M392.7 434.9h1.2M395.0 457.9h1.2M407.1 430.8h1.2M420.3 446.6h1.2M413.2 457.0h1.2M403.7 457.4h1.2M414.3 445.6h1.2M414.6 473.2h1.2M395.7 439.7h1.2M398.8 435.5h1.2M415.1 448.7h1.2M422.5 484.5h1.2M395.5 444.6h1.2M397.7 468.0h1.2M411.7 485.4h1.2M433.8 459.9h1.2M398.7 449.6h1.2M398.5 467.9h1.2M394.6 471.4h1.2M396.4 458.3h1.2M413.5 489.2h1.2M420.1 459.8h1.2M416.8 444.2h1.2M412.0 468.4h1.2M423.0 432.2h1.2M420.9 467.2h1.2M443.4 462.2h1.2M410.0 472.1h1.2M430.9 477.7h1.2M427.9 469.1h1.2M396.7 467.6h1.2M414.8 465.5h1.2M433.4 442.1h1.2M394.5 455.2h1.2M409.9 453.3h1.2M414.5 485.8h1.2M391.9 427.5h1.2M415.5 453.9h1.2M428.4 465.8h1.2M411.2 446.0h1.2M404.7 490.8h1.2M397.3 446.8h1.2M418.3 485.0h1.2M401.6 461.9h1.2M395.5 458.2h1.2M402.2 448.2h1.2M443.7 451.6h1.2M410.1 436.7h1.2M416.1 433.0h1.2M413.6 446.9h1.2M441.3 454.7h1.2M404.9 469.9h1.2M396.5 462.5h1.2M417.1 428.3h1.2M408.8 432.0h1.2M415.9 471.8h1.2M413.9 438.7h1.2M437.1 485.5h1.2M400.0 464.4h1.2M440.2 460.1h1.2M419.1 440.5h1.2M397.2 444.0h1.2M414.7 487.5h1.2M406.6 449.2h1.2M399.8 453.0h1.2M394.6 462.4h1.2M428.4 440.5h1.2M393.8 468.0h1.2M431.9 451.1h1.2M421.3 467.5h1.2M391.3 431.2h1.2M404.0 444.6h1.2M421.8 453.3h1.2M393.1 441.5h1.2M415.7 462.0h1.2M392.1 488.7h1.2M393.8 435.3h1.2M394.3 461.0h1.2M409.6 442.5h1.2M438.3 446.3h1.2M439.5 467.1h1.2M391.1 479.4h1.2M425.9 432.5h1.2M424.7 481.6h1.2M409.3 481.9h1.2M427.7 458.4h1.2M403.2 432.6h1.2M435.5 484.8h1.2M433.2 433.8h1.2M422.0 452.4h1.2M396.6 437.3h1.2M433.4 434.8h1.2M393.4 447.7h1.2M436.4 469.3h1.2M399.0 486.4h1.2M402.0 458.6h1.2M395.4 430.6h1.2M442.1 435.7h1.2M407.6 467.3h1.2M408.0 474.2h1.2M408.9 433.0h1.2M414.8 461.2h1.2M400.2 465.8h1.2M397.1 473.2h1.2M420.0 449.6h1.2M424.0 436.7h1.2M421.5 446.5h1.2M421.1 463.1h1.2M419.7 453.1h1.2M403.5 460.6h1.2M395.5 437.7h1.2M400.2 429.8h1.2M415.1 456.8h1.2M443.2 464.6h1.2M391.5 436.9h1.2M395.5 471.0h1.2M398.4 458.9h1.2M439.8 474.9h1.2M403.0 460.5h1.2M391.4 443.5h1.2M394.4 477.1h1.2M428.0 481.9h1.2M410.1 481.6h1.2M396.2 455.8h1.2M408.6 460.8h1.2M425.6 463.2h1.2M406.5 447.1h1.2M422.6 442.4h1.2M412.1 453.8h1.2M397.9 485.1h1.2M395.1 457.0h1.2M397.5 444.3h1.2M411.1 461.1h1.2M436.2 457.7h1.2M420.0 443.5h1.2M406.5 465.3h1.2M398.2 455.9h1.2M434.6 474.7h1.2M410.8 435.0h1.2M421.3 457.2h1.2M422.9 439.3h1.2M430.7 469.8h1.2M393.3 455.7h1.2M405.2 444.4h1.2M420.1 463.0h1.2M423.6 458.7h1.2M400.5 441.2h1.2M419.0 441.0h1.2M399.2 445.3h1.2M441.9 451.3h1.2M442.5 437.6h1.2M402.5 462.9h1.2M409.4 483.3h1.2M394.3 442.7h1.2M415.7 447.2h1.2M440.1 451.3h1.2M393.7 444.9h1.2M423.9 459.3h1.2M445.3 463.8h1.2M430.8 486.6h1.2M440.8 483.9h1.2M414.0 478.4h1.2M415.1 457.6h1.2M398.1 468.5h1.2M398.0 479.2h1.2M425.7 452.5h1.2M393.2 422.8h1.2M428.2 439.3h1.2M431.5 455.2h1.2M421.5 442.2h1.2M399.8 429.4h1.2M400.3 431.8h1.2M398.4 467.9h1.2M443.2 467.1h1.2M399.3 490.6h1.2M442.9 472.6h1.2M446.8 449.6h1.2M406.1 436.6h1.2M436.2 430.5h1.2M417.8 473.1h1.2M398.6 458.0h1.2M423.7 451.7h1.2M394.0 461.3h1.2M399.1 439.6h1.2M396.0 464.9h1.2M411.6 452.1h1.2M419.4 441.3h1.2M435.7 457.3h1.2M441.0 449.8h1.2M399.6 439.3h1.2M418.0 462.9h1.2M412.1 445.2h1.2M394.7 491.0h1.2M403.7 478.5h1.2M407.9 467.0h1.2M404.1 457.7h1.2M405.5 468.5h1.2M397.9 439.2h1.2M415.3 465.9h1.2M416.2 428.4h1.2M423.7 431.6h1.2M416.6 491.5h1.2M432.0 448.1h1.2M409.3 437.8h1.2M398.2 484.8h1.2M424.4 452.1h1.2M430.9 433.6h1.2M398.4 465.3h1.2M397.8 435.6h1.2M420.7 461.3h1.2M393.3 432.8h1.2M409.4 444.5h1.2M401.2 437.3h1.2M415.6 464.6h1.2M420.6 443.0h1.2M409.1 479.5h1.2M418.1 464.9h1.2M401.8 439.0h1.2M405.0 490.9h1.2M440.4 482.0h1.2M435.8 460.2h1.2M419.5 455.0h1.2M408.6 473.5h1.2M394.5 446.7h1.2M445.1 447.5h1.2M440.7 463.7h1.2M400.9 449.1h1.2M395.6 454.5h1.2M411.6 435.6h1.2M439.4 459.9h1.2M393.3 424.3h1.2M433.4 439.9h1.2M443.3 474.4h1.2M397.2 467.5h1.2M408.9 441.4h1.2M408.2 468.8h1.2M413.2 479.4h1.2M393.0 434.1h1.2M396.8 450.1h1.2M392.9 457.5h1.2M393.6 470.6h1.2M424.9 461.0h1.2M416.8 445.2h1.2M407.6 458.1h1.2M425.8 432.3h1.2M428.4 460.1h1.2M399.3 457.3h1.2M407.7 437.1h1.2M426.1 451.7h1.2M420.8 468.9h1.2M402.9 468.5h1.2M406.0 476.7h1.2M429.1 464.8h1.2M392.0 482.1h1.2M400.9 485.3h1.2M411.4 459.3h1.2M395.9 432.2h1.2M410.7 447.4h1.2M415.3 481.0h1.2M399.9 476.9h1.2M420.9 434.3h1.2M431.3 472.4h1.2M413.0 433.5h1.2M398.1 460.8h1.2M404.1 453.0h1.2M427.6 458.5h1.2M415.6 474.6h1.2M412.7 477.8h1.2M428.5 479.6h1.2M435.5 448.3h1.2M426.0 464.5h1.2M391.5 459.8h1.2M425.3 476.7h1.2M434.6 487.8h1.2M406.1 449.9h1.2M416.0 464.9h1.2M435.1 470.5h1.2M407.7 482.5h1.2M395.8 475.8h1.2M395.3 470.3h1.2M397.1 455.4h1.2M410.0 490.9h1.2M422.8 478.2h1.2M398.3 440.2h1.2M421.9 446.7h1.2M396.0 464.2h1.2M396.5 482.4h1.2M408.6 449.8h1.2M402.1 437.2h1.2M444.6 464.7h1.2M396.1 436.4h1.2M415.6 471.5h1.2M435.8 449.4h1.2M421.2 432.0h1.2M399.6 472.0h1.2M419.6 456.7h1.2M434.8 438.0h1.2M409.8 453.8h1.2M435.8 439.4h1.2M419.0 458.5h1.2M420.8 456.9h1.2M424.2 422.4h1.2M392.5 451.4h1.2M400.4 438.7h1.2M430.0 432.7h1.2M393.7 424.3h1.2M392.3 462.4h1.2M438.6 464.8h1.2M434.8 490.0h1.2M404.9 480.1h1.2M403.1 485.3h1.2M400.1 460.6h1.2M402.7 482.0h1.2M423.5 435.4h1.2M412.0 451.5h1.2M419.8 430.7h1.2M406.5 463.8h1.2M394.0 445.2h1.2M397.3 480.0h1.2M391.0 455.7h1.2M447.0 466.1h1.2M427.8 446.2h1.2M402.4 476.3h1.2M444.4 482.5h1.2M422.8 454.9h1.2M394.0 486.5h1.2M397.4 484.0h1.2M399.2 448.1h1.2M442.4 480.3h1.2M427.0 429.6h1.2M429.2 486.9h1.2M400.7 478.8h1.2M417.0 478.7h1.2M424.8 462.6h1.2M392.3 465.0h1.2M393.2 457.7h1.2M406.3 438.9h1.2M396.5 492.0h1.2M427.1 441.3h1.2M426.4 430.0h1.2M418.4 439.8h1.2M420.6 460.4h1.2M402.7 446.8h1.2M432.4 451.1h1.2M416.2 477.1h1.2M397.3 468.7h1.2M410.4 454.9h1.2M429.6 441.5h1.2M425.2 472.5h1.2M399.3 449.9h1.2M435.0 439.6h1.2M427.6 446.6h1.2M423.8 445.7h1.2M393.7 461.7h1.2M405.6 458.3h1.2M405.9 448.9h1.2M393.1 458.3h1.2M397.1 467.8h1.2M401.9 454.0h1.2M408.7 468.0h1.2M411.6 471.7h1.2M391.0 491.5h1.2M392.5 444.1h1.2M411.5 450.7h1.2M393.5 473.3h1.2M394.0 433.9h1.2M391.4 448.8h1.2M438.3 445.6h1.2M409.0 433.5h1.2M434.1 463.4h1.2M406.4 444.0h1.2M445.6 476.0h1.2M393.9 480.0h1.2M437.6 452.4h1.2M423.2 480.5h1.2M404.4 480.4h1.2M399.0 449.5h1.2M410.3 450.9h1.2M414.3 451.7h1.2M438.6 458.5h1.2M403.0 477.9h1.2M395.4 461.4h1.2M394.3 455.4h1.2M411.8 435.3h1.2M406.4 460.5h1.2M422.9 454.9h1.2M391.2 446.5h1.2M427.3 482.0h1.2M426.1 483.0h1.2M392.6 429.2h1.2M396.8 474.5h1.2M416.8 447.6h1.2M402.0 451.3h1.2M435.5 446.9h1.2M428.6 464.2h1.2M427.2 462.0h1.2M398.5 459.2h1.2M409.5 431.0h1.2M393.6 463.6h1.2M411.9 463.5h1.2M411.7 485.6h1.2M436.0 448.5h1.2M434.6 437.0h1.2M393.0 488.8h1.2M423.7 474.5h1.2M443.6 436.9h1.2M405.9 448.0h1.2M426.2 482.3h1.2M405.6 449.9h1.2M443.3 477.9h1.2M435.5 472.4h1.2M408.6 439.7h1.2M414.1 469.1h1.2M428.0 470.3h1.2M404.2 476.4h1.2M398.4 468.1h1.2M396.9 463.4h1.2M427.7 482.4h1.2M425.7 431.9h1.2M441.7 445.1h1.2M402.0 430.6h1.2M396.4 449.9h1.2M396.6 441.2h1.2M425.7 472.4h1.2M395.7 430.5h1.2M404.5 472.4h1.2M398.9 435.2h1.2M430.0 453.2h1.2M442.4 458.3h1.2M391.9 423.1h1.2M424.4 440.9h1.2M417.6 462.4h1.2M402.2 482.9h1.2M420.5 467.6h1.2M426.7 444.8h1.2M397.0 432.9h1.2M439.1 440.9h1.2M440.0 441.3h1.2M425.7 442.6h1.2M425.8 456.8h1.2M421.6 447.8h1.2M407.9 480.8h1.2M400.2 428.3h1.2M437.4 462.2h1.2M443.4 448.8h1.2M419.5 449.9h1.2M408.9 454.7h1.2M393.6 432.5h1.2M406.4 444.9h1.2M424.5 444.6h1.2M408.0 447.6h1.2M397.5 462.3h1.2M398.3 441.8h1.2M417.8 484.5h1.2M424.5 423.4h1.2M392.4 439.6h1.2M414.7 448.9h1.2M405.8 446.1h1.2M415.3 454.5h1.2M436.1 478.8h1.2M419.5 468.8h1.2M395.5 452.4h1.2M444.9 447.1h1.2M426.5 453.9h1.2M432.0 470.2h1.2M432.9 469.6h1.2M422.2 440.4h1.2M423.6 445.8h1.2M413.4 474.4h1.2M413.2 470.0h1.2M435.7 451.7h1.2M416.0 458.3h1.2M411.1 477.6h1.2M434.1 444.9h1.2M422.7 458.9h1.2M413.9 444.2h1.2M424.7 435.6h1.2M396.3 434.9h1.2M399.4 449.0h1.2M421.6 472.3h1.2M420.2 464.0h1.2M390.9 437.2h1.2M434.0 449.8h1.2M424.6 442.3h1.2M442.7 460.5h1.2M403.6 477.7h1.2M393.0 447.5h1.2M434.7 476.3h1.2M445.0 439.4h1.2M397.4 433.4h1.2M402.0 473.3h1.2M400.7 475.1h1.2M414.7 440.2h1.2M410.3 474.2h1.2M398.9 433.7h1.2M394.5 439.1h1.2M419.5 432.5h1.2M430.9 482.9h1.2M420.3 470.6h1.2M402.4 481.0h1.2M420.1 487.5h1.2M393.1 460.8h1.2M394.6 470.6h1.2M396.2 442.4h1.2M401.1 469.5h1.2M391.8 446.7h1.2M405.2 434.3h1.2M395.3 445.1h1.2M411.3 473.6h1.2M436.6 441.7h1.2M430.8 486.6h1.2M420.7 467.9h1.2M392.5 431.9h1.2M424.5 476.5h1.2M435.5 454.3h1.2M413.8 429.2h1.2M428.7 453.7h1.2M440.5 468.1h1.2M392.7 450.2h1.2M404.1 457.1h1.2M441.6 464.5h1.2M417.6 463.7h1.2M397.7 445.5h1.2M412.3 478.9h1.2M397.8 444.3h1.2M401.5 436.8h1.2M418.8 486.0h1.2M406.2 447.1h1.2M391.1 466.1h1.2M429.2 457.6h1.2M430.7 444.2h1.2M422.2 450.1h1.2M400.5 449.6h1.2M397.4 433.1h1.2M430.7 456.2h1.2M400.8 446.0h1.2M409.5 472.4h1.2M416.7 462.0h1.2M403.5 433.0h1.2M439.9 441.1h1.2M444.5 472.5h1.2M426.4 431.0h1.2M425.0 437.7h1.2M398.7 458.1h1.2M399.8 490.1h1.2M404.8 464.0h1.2M390.8 451.5h1.2M443.0 450.2h1.2M401.4 440.5h1.2M414.9 474.7h1.2M398.7 437.6h1.2M445.6 475.6h1.2M403.9 424.5h1.2M393.6 468.8h1.2M410.3 453.2h1.2M415.0 464.7h1.2M407.8 484.7h1.2M445.0 477.3h1.2M391.0 461.2h1.2M434.4 434.1h1.2M423.9 435.2h1.2M439.9 482.9h1.2M431.6 464.2h1.2M412.0 463.6h1.2M445.4 481.0h1.2M407.7 434.0h1.2M431.8 456.0h1.2M418.3 433.1h1.2M391.8 428.5h1.2M428.5 438.7h1.2M392.4 440.8h1.2M407.6 443.6h1.2M405.5 463.9h1.2M436.1 470.2h1.2M393.8 454.2h1.2M395.3 438.8h1.2M397.0 444.4h1.2M412.3 436.1h1.2M411.5 433.4h1.2M436.8 434.7h1.2M396.7 483.3h1.2M393.6 479.5h1.2M427.0 458.8h1.2M415.2 478.6h1.2M429.3 441.3h1.2M427.6 435.0h1.2M442.5 482.8h1.2M400.1 435.0h1.2M397.4 439.6h1.2M394.7 445.1h1.2M404.0 433.8h1.2M403.8 454.9h1.2M439.2 465.9h1.2M411.7 458.1h1.2M403.8 473.4h1.2M424.2 464.5h1.2M430.7 468.1h1.2M411.3 475.9h1.2M404.8 437.4h1.2M441.7 444.7h1.2M403.2 453.1h1.2M439.2 463.5h1.2M407.9 453.2h1.2M418.2 472.2h1.2M409.3 440.1h1.2M396.6 440.6h1.2M428.6 469.8h1.2M410.9 443.4h1.2M434.5 432.3h1.2M411.8 472.7h1.2M414.3 469.7h1.2M400.3 476.9h1.2M396.1 448.0h1.2M392.3 476.2h1.2M398.7 459.7h1.2M418.9 428.9h1.2M432.1 434.5h1.2M402.4 437.0h1.2M408.8 431.3h1.2M412.4 470.7h1.2M442.8 471.6h1.2M433.2 478.3h1.2M423.3 427.9h1.2M409.6 469.9h1.2M441.0 477.5h1.2M390.9 451.5h1.2M397.9 449.0h1.2M391.9 451.8h1.2M392.0 442.4h1.2M425.1 458.1h1.2M442.4 462.4h1.2M429.5 489.9h1.2M398.3 449.2h1.2M417.5 478.6h1.2M414.0 464.3h1.2M418.4 449.5h1.2M395.7 465.8h1.2M400.1 431.2h1.2M414.5 456.1h1.2M396.0 456.5h1.2M400.2 484.6h1.2M412.7 449.5h1.2M443.2 484.7h1.2M416.1 427.8h1.2M436.4 475.9h1.2M405.6 430.2h1.2M391.9 432.7h1.2M394.4 451.1h1.2M391.0 471.6h1.2M398.6 448.1h1.2M442.9 437.4h1.2M398.7 451.8h1.2M427.9 446.2h1.2M392.7 444.6h1.2M418.6 482.9h1.2M405.0 446.5h1.2M396.3 434.6h1.2M390.5 465.7h1.2M443.5 474.6h1.2M420.4 443.4h1.2M424.8 434.5h1.2M406.6 470.2h1.2M438.4 460.9h1.2M406.1 450.1h1.2M391.2 459.3h1.2M434.2 479.1h1.2M432.3 472.2h1.2M430.2 451.0h1.2M443.6 462.8h1.2M410.1 483.1h1.2M397.9 462.6h1.2M404.0 454.8h1.2M423.8 458.8h1.2M433.6 444.7h1.2M399.9 427.8h1.2M431.4 441.9h1.2M426.1 471.0h1.2M439.9 467.2h1.2M436.6 456.9h1.2M420.5 485.3h1.2M390.7 457.9h1.2M400.6 466.4h1.2M399.0 469.1h1.2M412.6 441.8h1.2M416.8 459.2h1.2M418.4 444.7h1.2M397.2 447.7h1.2M411.6 459.8h1.2M423.6 449.2h1.2M409.2 436.0h1.2M398.0 450.6h1.2M402.2 452.9h1.2M423.4 424.8h1.2M425.4 441.4h1.2M395.3 487.1h1.2M397.0 444.7h1.2M400.8 468.3h1.2M409.4 474.8h1.2M398.3 438.2h1.2M433.9 465.9h1.2M435.3 451.0h1.2M400.5 435.3h1.2M422.7 439.9h1.2M418.6 448.7h1.2M402.7 470.0h1.2M400.4 439.0h1.2M424.0 483.9h1.2M405.1 447.8h1.2M390.7 430.1h1.2M436.8 475.3h1.2M396.0 454.2h1.2M411.4 446.0h1.2M441.0 463.7h1.2M411.8 436.6h1.2M433.4 453.2h1.2M437.9 475.9h1.2M402.6 455.4h1.2M401.8 471.7h1.2M434.6 460.3h1.2M391.1 431.2h1.2M428.4 467.8h1.2M399.9 434.6h1.2M417.3 479.9h1.2M395.7 462.1h1.2M416.4 442.7h1.2M440.8 452.9h1.2M415.4 433.5h1.2M438.0 461.4h1.2M415.2 473.1h1.2M415.7 440.4h1.2M398.8 439.6h1.2M391.3 436.1h1.2M402.8 438.7h1.2M432.2 448.3h1.2M412.2 458.6h1.2M395.1 454.9h1.2M409.1 465.1h1.2M439.0 439.4h1.2M399.3 467.2h1.2M405.2 433.4h1.2M396.0 443.0h1.2M442.5 461.7h1.2M409.6 432.8h1.2M413.8 448.2h1.2M394.0 451.1h1.2M402.2 449.2h1.2M414.3 443.9h1.2M400.9 467.1h1.2M428.7 436.5h1.2M438.6 434.1h1.2M392.4 487.8h1.2M399.8 442.9h1.2M394.3 430.5h1.2M429.0 439.5h1.2M398.3 435.7h1.2M406.5 434.1h1.2M434.9 472.1h1.2M431.8 455.4h1.2M393.6 468.3h1.2M436.8 455.7h1.2M434.9 434.2h1.2M438.4 443.9h1.2M435.4 459.9h1.2M399.6 435.3h1.2M411.4 447.9h1.2M420.7 477.8h1.2M412.0 448.5h1.2M419.7 470.0h1.2M401.8 469.2h1.2M393.1 471.4h1.2M414.4 436.5h1.2M400.6 447.2h1.2M407.0 469.7h1.2M394.3 435.5h1.2M396.9 447.2h1.2M396.1 471.8h1.2M400.4 490.2h1.2M397.4 440.0h1.2M394.9 427.0h1.2M409.2 462.8h1.2M430.2 470.3h1.2M395.9 426.3h1.2M399.9 435.2h1.2M403.8 460.9h1.2M413.5 468.5h1.2M434.1 480.2h1.2M425.5 459.8h1.2M410.2 477.2h1.2M402.3 444.2h1.2M392.8 483.5h1.2M423.5 473.4h1.2M446.5 468.6h1.2M415.6 482.8h1.2M414.3 474.3h1.2M422.7 448.2h1.2M414.5 446.8h1.2M407.2 443.6h1.2M438.2 452.1h1.2M434.9 469.4h1.2M402.6 430.1h1.2M428.9 446.6h1.2M397.1 434.6h1.2M415.0 460.1h1.2M407.6 447.7h1.2M426.0 445.7h1.2M405.7 453.6h1.2M414.9 487.6h1.2M418.5 444.1h1.2M410.9 430.7h1.2M390.9 476.4h1.2M412.2 458.9h1.2M407.1 437.5h1.2M412.9 455.9h1.2M439.0 436.5h1.2M408.9 451.5h1.2M414.2 449.3h1.2M396.5 477.4h1.2M435.7 447.7h1.2M420.0 458.4h1.2M429.8 474.8h1.2M391.5 491.2h1.2M397.7 433.9h1.2M436.0 467.4h1.2M411.2 443.5h1.2M406.3 450.6h1.2M441.8 478.7h1.2M406.3 436.3h1.2M397.9 435.3h1.2M443.7 461.8h1.2M414.6 466.5h1.2M400.9 458.8h1.2M424.0 470.9h1.2M394.3 436.9h1.2M397.1 479.7h1.2M392.6 472.5h1.2M423.4 452.5h1.2M395.4 434.4h1.2M400.1 438.9h1.2M408.5 440.2h1.2M392.6 467.7h1.2M399.8 462.7h1.2M400.8 442.7h1.2M396.2 480.4h1.2M447.2 467.6h1.2M391.1 476.0h1.2M401.4 425.2h1.2M402.2 445.0h1.2M397.4 430.2h1.2M431.6 448.2h1.2M422.7 484.6h1.2M413.9 474.5h1.2M392.0 463.2h1.2M427.5 434.3h1.2M396.9 439.0h1.2M394.1 428.5h1.2M393.9 425.5h1.2M433.6 439.9h1.2M403.6 475.6h1.2M405.9 451.1h1.2M391.9 430.5h1.2M445.4 485.4h1.2M398.9 442.2h1.2M437.8 488.4h1.2M419.4 432.9h1.2M437.9 453.6h1.2M411.3 430.8h1.2M425.8 440.5h1.2M439.5 477.6h1.2M397.0 464.6h1.2M427.5 449.8h1.2M400.7 437.4h1.2M393.1 465.6h1.2M412.6 484.2h1.2M397.3 425.9h1.2M411.3 483.0h1.2M426.7 444.0h1.2M427.4 482.8h1.2M403.8 474.5h1.2M445.2 442.0h1.2M413.4 431.7h1.2M411.9 464.6h1.2M395.0 462.6h1.2M405.6 465.6h1.2M413.7 436.2h1.2M433.9 457.7h1.2M400.5 460.9h1.2M395.3 472.8h1.2M393.4 450.8h1.2M406.3 471.5h1.2M401.4 430.1h1.2M391.9 479.4h1.2M408.6 443.5h1.2M399.2 432.2h1.2M427.0 456.2h1.2M436.1 466.0h1.2M398.0 452.0h1.2M418.9 462.3h1.2M400.6 454.6h1.2M410.6 466.3h1.2M431.0 452.0h1.2M395.8 434.0h1.2M440.3 452.8h1.2M431.8 488.3h1.2M438.0 451.1h1.2M427.4 471.8h1.2M423.3 483.9h1.2M408.4 437.4h1.2M431.9 476.1h1.2M431.9 436.6h1.2M412.5 484.5h1.2M415.5 477.0h1.2M400.6 476.7h1.2M427.2 475.2h1.2M410.8 451.7h1.2M393.7 471.2h1.2M441.4 446.4h1.2M412.0 484.8h1.2M406.2 454.7h1.2M412.8 447.0h1.2M407.8 429.9h1.2M391.2 434.8h1.2M432.6 482.8h1.2M433.4 470.8h1.2M399.1 490.4h1.2M403.8 435.1h1.2M412.1 445.9h1.2M412.4 447.0h1.2M414.2 452.6h1.2M399.5 435.4h1.2M405.9 444.8h1.2M430.5 467.9h1.2M405.6 443.8h1.2M433.0 472.3h1.2M399.5 454.2h1.2M400.6 473.1h1.2M415.1 472.5h1.2M415.9 436.7h1.2M438.0 436.8h1.2M431.4 447.0h1.2M392.2 444.1h1.2M411.9 453.6h1.2M410.4 444.6h1.2M429.7 459.1h1.2M406.6 477.0h1.2M405.2 461.1h1.2M407.8 461.7h1.2M439.1 465.7h1.2M399.7 432.7h1.2M446.6 435.3h1.2M395.8 450.1h1.2M413.0 461.8h1.2M450.2 440.3h1.2M458.3 456.8h1.2M464.2 450.6h1.2M451.2 450.5h1.2M451.8 460.2h1.2M451.2 444.7h1.2M454.5 435.0h1.2M455.2 478.6h1.2M458.8 491.9h1.2M454.8 458.3h1.2M453.5 464.8h1.2M455.7 420.4h1.2M461.3 467.7h1.2M457.5 442.3h1.2M450.3 445.8h1.2M460.2 467.9h1.2M450.7 450.4h1.2M453.7 457.3h1.2M448.6 446.2h1.2M463.6 440.5h1.2M449.6 464.0h1.2M453.5 447.0h1.2M456.6 440.9h1.2M456.2 482.4h1.2M462.1 464.5h1.2M453.5 463.5h1.2M458.8 443.2h1.2M454.5 445.8h1.2M458.7 444.9h1.2M454.6 442.2h1.2M456.9 451.5h1.2M453.4 478.8h1.2M453.3 461.5h1.2M457.7 435.6h1.2M451.4 485.7h1.2M454.3 466.3h1.2M448.0 432.3h1.2M456.2 457.8h1.2M448.6 440.9h1.2M460.3 456.4h1.2M455.7 476.6h1.2M450.2 457.9h1.2M450.6 477.1h1.2M454.8 468.1h1.2M450.9 448.1h1.2M452.6 458.9h1.2M451.2 453.3h1.2M457.4 451.6h1.2M450.4 467.7h1.2M449.1 466.8h1.2M451.1 450.7h1.2M455.2 440.1h1.2M454.5 418.6h1.2M455.7 474.5h1.2M448.6 467.4h1.2M454.7 438.9h1.2M455.1 474.3h1.2M453.5 445.5h1.2M450.4 459.8h1.2M461.9 453.5h1.2M456.8 481.9h1.2M450.1 465.8h1.2M453.8 452.5h1.2M453.5 435.4h1.2M458.4 445.6h1.2M460.4 444.3h1.2M460.5 450.1h1.2M448.0 472.6h1.2M460.6 465.9h1.2M455.0 434.3h1.2M453.6 435.0h1.2M457.5 455.2h1.2M455.3 482.3h1.2M453.6 486.0h1.2M453.8 453.4h1.2M458.3 446.0h1.2M455.2 479.6h1.2M453.6 467.7h1.2M458.0 436.3h1.2M455.1 468.9h1.2M449.4 455.9h1.2M453.3 454.4h1.2M456.6 447.3h1.2M451.1 491.3h1.2M457.5 436.6h1.2M463.9 441.7h1.2M451.6 487.0h1.2M454.5 431.3h1.2M453.1 459.1h1.2M456.6 490.5h1.2M458.3 474.8h1.2M452.2 480.3h1.2M457.4 439.1h1.2M455.9 447.8h1.2M459.5 482.0h1.2M457.3 444.4h1.2M456.5 479.4h1.2M457.8 434.9h1.2M451.2 453.0h1.2M453.3 456.3h1.2M453.8 453.7h1.2M454.5 480.7h1.2M452.2 439.2h1.2M457.6 454.5h1.2M456.6 486.3h1.2M456.3 448.1h1.2M454.6 481.9h1.2M458.2 446.1h1.2M450.3 449.8h1.2M456.8 452.2h1.2M460.9 448.4h1.2M461.1 453.7h1.2M452.4 469.7h1.2M448.7 418.5h1.2M457.0 488.3h1.2M463.5 437.9h1.2M451.7 449.9h1.2M453.3 457.4h1.2M448.0 444.0h1.2M455.7 446.7h1.2M453.7 460.6h1.2M448.5 457.4h1.2M461.1 467.0h1.2M449.4 449.9h1.2M454.6 442.9h1.2M453.4 441.8h1.2M449.5 478.2h1.2M458.7 460.6h1.2M453.6 445.8h1.2M456.7 441.3h1.2M454.0 421.5h1.2M451.2 489.0h1.2M454.6 474.1h1.2M454.1 466.4h1.2M451.5 448.6h1.2M454.2 464.1h1.2M452.2 461.2h1.2M452.5 453.8h1.2M460.7 452.0h1.2M456.3 440.0h1.2M457.4 461.9h1.2M458.4 485.0h1.2M457.9 420.2h1.2M458.2 473.1h1.2M450.4 456.7h1.2M457.8 436.1h1.2M455.8 456.7h1.2M464.9 451.4h1.2M452.1 448.1h1.2M448.3 486.5h1.2M459.0 442.0h1.2M450.6 437.4h1.2M458.8 456.5h1.2M454.5 454.2h1.2M450.3 457.5h1.2M459.2 461.6h1.2M463.3 457.0h1.2M460.3 426.9h1.2M457.7 451.6h1.2M460.8 475.5h1.2M462.7 452.4h1.2M453.0 448.4h1.2M453.2 457.0h1.2M457.4 463.0h1.2M452.5 461.5h1.2M452.0 451.9h1.2M450.8 464.0h1.2M460.9 460.7h1.2M451.4 446.2h1.2M456.3 457.0h1.2M448.6 467.6h1.2M452.8 440.7h1.2M452.1 475.1h1.2M451.8 469.4h1.2M448.5 442.6h1.2M452.8 447.9h1.2M458.0 486.8h1.2M448.5 477.2h1.2M450.6 487.5h1.2M455.3 446.9h1.2M450.6 467.6h1.2M453.9 442.5h1.2M455.3 463.7h1.2M454.6 463.5h1.2M461.5 448.8h1.2M456.0 465.4h1.2M448.6 426.9h1.2M449.1 448.8h1.2M452.3 466.1h1.2M456.3 489.9h1.2M455.4 482.7h1.2M458.5 454.3h1.2M458.4 460.4h1.2M448.3 483.1h1.2M453.4 466.0h1.2M454.6 471.5h1.2M452.6 456.1h1.2M456.6 422.7h1.2M451.2 451.9h1.2M447.9 439.8h1.2M462.7 463.1h1.2M460.2 443.3h1.2M455.0 459.8h1.2M461.8 429.5h1.2M450.8 475.1h1.2M452.6 459.8h1.2M462.4 450.6h1.2M453.5 442.9h1.2M458.5 436.7h1.2M452.8 436.7h1.2M457.5 477.6h1.2M457.8 466.1h1.2M455.0 441.0h1.2M453.9 455.1h1.2M452.8 434.3h1.2M459.8 481.3h1.2M454.7 443.5h1.2M451.6 459.1h1.2M450.5 437.0h1.2M456.2 455.2h1.2M454.5 450.0h1.2M457.6 464.8h1.2M450.7 486.3h1.2M460.9 462.2h1.2M454.1 462.1h1.2M461.7 463.7h1.2M452.5 466.0h1.2M462.6 469.7h1.2M454.4 475.7h1.2M448.2 434.9h1.2M454.0 456.7h1.2M449.3 483.0h1.2M448.8 451.8h1.2M453.2 473.5h1.2M456.9 423.9h1.2M463.0 459.3h1.2M455.7 465.0h1.2M453.2 469.2h1.2M453.5 423.0h1.2M455.4 456.6h1.2M452.8 459.7h1.2M455.6 479.3h1.2M451.5 455.7h1.2M450.1 450.4h1.2M453.6 443.3h1.2M454.5 452.7h1.2M456.0 453.7h1.2M450.3 451.4h1.2M457.0 422.7h1.2M455.7 434.3h1.2M460.9 447.8h1.2M461.2 439.3h1.2M456.1 441.8h1.2M453.2 434.2h1.2M452.3 434.9h1.2M452.9 448.5h1.2M453.7 438.4h1.2M459.6 430.2h1.2M449.2 436.6h1.2M452.8 462.5h1.2M452.5 434.2h1.2M459.5 458.9h1.2M454.7 487.4h1.2M456.6 434.3h1.2M461.6 455.8h1.2M453.7 456.1h1.2M456.8 424.3h1.2M458.2 435.2h1.2M455.9 478.3h1.2M455.8 434.6h1.2M452.7 450.6h1.2M454.6 464.0h1.2M452.0 436.6h1.2M452.0 467.4h1.2M451.4 438.8h1.2M454.6 468.1h1.2M458.5 435.6h1.2M460.5 447.9h1.2M455.6 491.5h1.2M449.7 470.0h1.2M452.2 443.2h1.2M449.6 451.3h1.2M451.8 491.6h1.2M448.9 463.0h1.2M456.7 467.3h1.2M464.2 458.0h1.2M452.2 436.4h1.2M459.8 448.8h1.2M456.3 489.4h1.2M449.0 449.6h1.2M451.3 487.0h1.2M454.4 469.4h1.2M459.6 463.0h1.2M449.0 448.2h1.2M452.9 438.3h1.2M456.0 446.9h1.2M454.5 463.1h1.2M451.6 489.5h1.2M465.0 440.2h1.2M452.7 456.4h1.2M453.2 441.8h1.2M459.0 452.9h1.2M451.8 482.0h1.2M454.4 440.2h1.2M449.1 435.7h1.2M458.2 466.1h1.2M457.8 482.3h1.2M456.6 443.2h1.2M451.3 444.3h1.2M464.1 487.0h1.2M457.4 455.2h1.2M453.3 451.3h1.2M455.1 476.8h1.2M450.3 451.9h1.2M454.4 432.0h1.2M452.8 455.2h1.2M458.8 449.6h1.2M449.7 435.3h1.2M453.8 444.6h1.2M453.7 467.4h1.2M457.4 454.1h1.2M448.9 443.4h1.2M455.9 477.4h1.2M454.4 436.2h1.2M460.6 445.1h1.2M454.9 456.5h1.2M453.0 439.0h1.2M448.5 446.3h1.2M457.9 452.7h1.2M452.3 446.1h1.2M413.6 425.7h1.2M398.2 394.0h1.2M397.3 416.4h1.2M409.5 386.7h1.2M445.0 418.7h1.2M416.7 415.0h1.2M418.0 427.8h1.2M396.2 402.3h1.2M417.3 427.5h1.2M425.8 426.7h1.2M393.6 426.7h1.2M391.5 400.7h1.2M437.5 427.2h1.2M396.6 424.1h1.2M403.0 415.7h1.2M401.7 423.3h1.2M393.2 424.0h1.2M410.0 422.7h1.2M429.1 412.9h1.2M432.6 418.1h1.2M401.3 414.2h1.2M403.9 426.8h1.2M403.5 427.0h1.2M392.8 395.1h1.2M428.5 424.1h1.2M421.1 422.8h1.2M416.3 425.7h1.2M393.3 399.0h1.2M400.7 406.5h1.2M421.4 389.2h1.2M396.9 420.8h1.2M395.6 426.7h1.2M396.1 419.2h1.2M413.0 421.6h1.2M395.8 425.8h1.2M425.5 422.1h1.2M392.2 419.1h1.2M404.7 417.9h1.2M416.6 406.8h1.2M395.5 396.6h1.2M410.5 425.1h1.2M405.1 424.5h1.2M391.4 427.2h1.2M423.1 422.5h1.2M424.1 421.1h1.2M418.8 427.4h1.2M431.4 407.6h1.2M415.5 427.5h1.2M428.1 408.9h1.2M414.6 410.2h1.2M401.6 415.3h1.2M391.3 419.8h1.2M398.1 411.8h1.2M421.7 406.9h1.2M410.9 426.2h1.2M394.5 420.5h1.2M414.4 426.0h1.2M405.2 416.7h1.2M413.2 413.1h1.2M438.6 427.4h1.2M414.3 402.0h1.2M397.6 401.5h1.2M426.1 422.4h1.2M396.1 421.5h1.2M411.5 422.7h1.2M418.6 421.2h1.2M413.1 390.8h1.2M393.5 420.0h1.2M399.7 420.0h1.2M408.4 424.5h1.2M404.5 425.2h1.2M413.9 424.5h1.2M390.6 422.5h1.2M402.2 421.3h1.2M419.2 417.5h1.2M444.1 423.1h1.2M431.1 422.5h1.2M401.1 427.7h1.2M412.6 427.7h1.2M429.8 400.3h1.2M395.9 418.0h1.2M412.4 426.0h1.2M398.0 416.8h1.2M445.9 410.1h1.2M401.5 394.9h1.2M430.9 426.5h1.2M390.7 425.7h1.2M391.4 417.3h1.2M397.4 417.7h1.2M412.2 423.7h1.2M418.2 405.5h1.2M414.2 413.9h1.2M403.3 411.3h1.2M398.7 417.3h1.2M401.3 419.8h1.2M436.4 420.1h1.2M402.2 406.4h1.2M412.2 411.2h1.2M422.9 418.6h1.2M397.8 410.8h1.2M416.8 427.1h1.2M428.6 419.7h1.2M406.2 417.2h1.2M411.1 419.0h1.2M400.2 405.7h1.2M391.3 400.2h1.2M407.1 414.3h1.2M391.6 416.2h1.2M409.6 427.2h1.2M402.8 400.5h1.2M396.3 411.7h1.2M392.8 405.8h1.2M406.5 424.1h1.2M429.7 424.1h1.2M410.1 408.3h1.2M420.6 421.4h1.2M423.7 399.7h1.2M397.8 420.0h1.2M405.1 405.7h1.2M390.6 399.9h1.2M411.2 424.6h1.2M392.8 421.7h1.2M422.1 405.5h1.2M413.0 424.8h1.2M390.5 414.7h1.2M404.2 422.0h1.2M404.6 419.0h1.2M402.5 396.9h1.2M422.7 413.4h1.2M406.9 427.4h1.2M431.7 418.2h1.2M429.1 423.4h1.2M433.3 399.6h1.2M397.8 413.8h1.2M398.6 427.8h1.2M403.6 413.0h1.2M404.7 425.5h1.2M424.6 413.8h1.2M400.7 413.7h1.2M407.2 421.8h1.2M394.1 422.8h1.2M398.8 415.4h1.2M401.1 389.4h1.2M401.2 424.4h1.2M403.2 424.5h1.2M407.7 422.5h1.2M392.6 410.5h1.2M403.1 424.3h1.2M427.2 414.9h1.2M391.2 410.2h1.2M417.3 410.0h1.2M403.8 417.4h1.2M409.1 422.7h1.2M398.6 407.1h1.2M394.4 422.4h1.2M406.0 427.7h1.2M407.6 407.7h1.2M424.5 419.0h1.2M429.3 425.7h1.2M416.1 420.2h1.2M407.3 423.8h1.2M420.6 421.7h1.2M396.2 422.1h1.2" stroke="#000" stroke-width="1.2" fill="none"/>
<line x1="297.5" y1="26.5" x2="518.5" y2="26.5" stroke="#6a6a6a" stroke-width="1" />
<line x1="518.5" y1="26.5" x2="518.5" y2="138.6" stroke="#8a8a8a" stroke-width="1" />
<line x1="297.5" y1="26.0" x2="297.5" y2="139.29999999999998" stroke="#111" stroke-width="1.25" />
<line x1="296.9" y1="138.6" x2="519.5" y2="138.6" stroke="#111" stroke-width="1.4" />
<line x1="300.5" y1="27.5" x2="388.5" y2="27.5" stroke="#6a6a6a" stroke-width="0.9" />
<line x1="300.5" y1="27.5" x2="300.5" y2="87.5" stroke="#6a6a6a" stroke-width="0.9" />
<line x1="300.5" y1="87.5" x2="518.5" y2="87.5" stroke="#6a6a6a" stroke-width="0.9" />
<line x1="388.5" y1="27.5" x2="468.5" y2="27.5" stroke="#484848" stroke-width="0.9" />
<line x1="388.5" y1="27.1" x2="388.5" y2="138.0" stroke="#484848" stroke-width="1" />
<line x1="404.5" y1="27.1" x2="404.5" y2="138.0" stroke="#484848" stroke-width="1" />
<line x1="417.5" y1="27.1" x2="417.5" y2="138.0" stroke="#484848" stroke-width="1" />
<line x1="431.5" y1="27.1" x2="431.5" y2="138.0" stroke="#484848" stroke-width="1" />
<line x1="447.5" y1="27.1" x2="447.5" y2="138.0" stroke="#484848" stroke-width="1" />
<line x1="468.5" y1="27.1" x2="468.5" y2="138.0" stroke="#484848" stroke-width="1" />
<line x1="321.2" y1="138.6" x2="321.2" y2="141.5" stroke="#222" stroke-width="0.8" />
<line x1="292.9" y1="126.92669683257918" x2="297.5" y2="126.92669683257918" stroke="#666" stroke-width="0.9" />
<line x1="345.4" y1="138.6" x2="345.4" y2="141.5" stroke="#222" stroke-width="0.8" />
<line x1="292.9" y1="114.59674208144796" x2="297.5" y2="114.59674208144796" stroke="#666" stroke-width="0.9" />
<line x1="398.0" y1="138.6" x2="398.0" y2="141.5" stroke="#222" stroke-width="0.8" />
<line x1="292.9" y1="87.79692307692308" x2="297.5" y2="87.79692307692308" stroke="#666" stroke-width="0.9" />
<line x1="449.5" y1="138.6" x2="449.5" y2="141.5" stroke="#222" stroke-width="0.8" />
<line x1="292.9" y1="61.55755656108596" x2="297.5" y2="61.55755656108596" stroke="#666" stroke-width="0.9" />
<line x1="498.2" y1="138.6" x2="498.2" y2="141.5" stroke="#222" stroke-width="0.8" />
<line x1="292.9" y1="36.74479638009049" x2="297.5" y2="36.74479638009049" stroke="#666" stroke-width="0.9" />
<line x1="361.2341777719254" y1="138.6" x2="361.2341777719254" y2="140.29999999999998" stroke="#444" stroke-width="0.8" />
<line x1="295.7" y1="106.52919268272035" x2="297.5" y2="106.52919268272035" stroke="#aaa" stroke-width="0.7" />
<line x1="370.4965779982542" y1="138.6" x2="370.4965779982542" y2="140.29999999999998" stroke="#444" stroke-width="0.8" />
<line x1="295.7" y1="101.8099788117492" x2="297.5" y2="101.8099788117492" stroke="#aaa" stroke-width="0.7" />
<line x1="377.0683555438508" y1="138.6" x2="377.0683555438508" y2="140.29999999999998" stroke="#444" stroke-width="0.8" />
<line x1="295.7" y1="98.46164328399274" x2="297.5" y2="98.46164328399274" stroke="#aaa" stroke-width="0.7" />
<line x1="382.1658222280746" y1="138.6" x2="382.1658222280746" y2="140.29999999999998" stroke="#444" stroke-width="0.8" />
<line x1="293.9" y1="95.86447247565069" x2="297.5" y2="95.86447247565069" stroke="#777" stroke-width="0.9" />
<line x1="386.3307557701796" y1="138.6" x2="386.3307557701796" y2="140.29999999999998" stroke="#444" stroke-width="0.8" />
<line x1="295.7" y1="93.74242941302158" x2="297.5" y2="93.74242941302158" stroke="#aaa" stroke-width="0.7" />
<line x1="389.8521569047499" y1="138.6" x2="389.8521569047499" y2="140.29999999999998" stroke="#444" stroke-width="0.8" />
<line x1="295.7" y1="91.94826756798714" x2="297.5" y2="91.94826756798714" stroke="#aaa" stroke-width="0.7" />
<line x1="392.9025333157762" y1="138.6" x2="392.9025333157762" y2="140.29999999999998" stroke="#444" stroke-width="0.8" />
<line x1="295.7" y1="90.39409388526514" x2="297.5" y2="90.39409388526514" stroke="#aaa" stroke-width="0.7" />
<line x1="395.5931559965085" y1="138.6" x2="395.5931559965085" y2="140.29999999999998" stroke="#444" stroke-width="0.8" />
<line x1="295.7" y1="89.02321554205042" x2="297.5" y2="89.02321554205042" stroke="#aaa" stroke-width="0.7" />
<line x1="413.503044776695" y1="138.6" x2="413.503044776695" y2="140.29999999999998" stroke="#444" stroke-width="0.8" />
<line x1="295.7" y1="79.89808668843501" x2="297.5" y2="79.89808668843501" stroke="#aaa" stroke-width="0.7" />
<line x1="422.5717446180626" y1="138.6" x2="422.5717446180626" y2="140.29999999999998" stroke="#444" stroke-width="0.8" />
<line x1="295.7" y1="75.27756360183778" x2="297.5" y2="75.27756360183778" stroke="#aaa" stroke-width="0.7" />
<line x1="429.0060895533901" y1="138.6" x2="429.0060895533901" y2="140.29999999999998" stroke="#444" stroke-width="0.8" />
<line x1="295.7" y1="71.99925029994695" x2="297.5" y2="71.99925029994695" stroke="#aaa" stroke-width="0.7" />
<line x1="433.99695522330495" y1="138.6" x2="433.99695522330495" y2="140.29999999999998" stroke="#444" stroke-width="0.8" />
<line x1="293.9" y1="69.45639294957402" x2="297.5" y2="69.45639294957402" stroke="#777" stroke-width="0.9" />
<line x1="438.07478939475766" y1="138.6" x2="438.07478939475766" y2="140.29999999999998" stroke="#444" stroke-width="0.8" />
<line x1="295.7" y1="67.3787272133497" x2="297.5" y2="67.3787272133497" stroke="#aaa" stroke-width="0.7" />
<line x1="441.5225490607342" y1="138.6" x2="441.5225490607342" y2="140.29999999999998" stroke="#444" stroke-width="0.8" />
<line x1="295.7" y1="65.62208586317342" x2="297.5" y2="65.62208586317342" stroke="#aaa" stroke-width="0.7" />
<line x1="444.5091343300851" y1="138.6" x2="444.5091343300851" y2="140.29999999999998" stroke="#444" stroke-width="0.8" />
<line x1="295.7" y1="64.1004139114589" x2="297.5" y2="64.1004139114589" stroke="#aaa" stroke-width="0.7" />
<line x1="447.1434892361252" y1="138.6" x2="447.1434892361252" y2="140.29999999999998" stroke="#444" stroke-width="0.8" />
<line x1="295.7" y1="62.758204126752474" x2="297.5" y2="62.758204126752474" stroke="#aaa" stroke-width="0.7" />
<line x1="464.16016078883587" y1="138.6" x2="464.16016078883587" y2="140.29999999999998" stroke="#444" stroke-width="0.8" />
<line x1="295.7" y1="54.0881714713895" x2="297.5" y2="54.0881714713895" stroke="#aaa" stroke-width="0.7" />
<line x1="472.73580510484754" y1="138.6" x2="472.73580510484754" y2="140.29999999999998" stroke="#444" stroke-width="0.8" />
<line x1="295.7" y1="49.718861290471324" x2="297.5" y2="49.718861290471324" stroke="#aaa" stroke-width="0.7" />
<line x1="478.82032157767173" y1="138.6" x2="478.82032157767173" y2="140.29999999999998" stroke="#444" stroke-width="0.8" />
<line x1="295.7" y1="46.61878638169301" x2="297.5" y2="46.61878638169301" stroke="#aaa" stroke-width="0.7" />
<line x1="483.5398392111641" y1="138.6" x2="483.5398392111641" y2="140.29999999999998" stroke="#444" stroke-width="0.8" />
<line x1="293.9" y1="44.21418146978695" x2="297.5" y2="44.21418146978695" stroke="#777" stroke-width="0.9" />
<line x1="487.3959658936834" y1="138.6" x2="487.3959658936834" y2="140.29999999999998" stroke="#444" stroke-width="0.8" />
<line x1="295.7" y1="42.24947620077485" x2="297.5" y2="42.24947620077485" stroke="#aaa" stroke-width="0.7" />
<line x1="490.6562745486943" y1="138.6" x2="490.6562745486943" y2="140.29999999999998" stroke="#444" stroke-width="0.8" />
<line x1="295.7" y1="40.588341564782894" x2="297.5" y2="40.588341564782894" stroke="#aaa" stroke-width="0.7" />
<line x1="493.48048236650766" y1="138.6" x2="493.48048236650766" y2="140.29999999999998" stroke="#444" stroke-width="0.8" />
<line x1="295.7" y1="39.149401291996554" x2="297.5" y2="39.149401291996554" stroke="#aaa" stroke-width="0.7" />
<line x1="495.9716102096951" y1="138.6" x2="495.9716102096951" y2="140.29999999999998" stroke="#444" stroke-width="0.8" />
<line x1="295.7" y1="37.88016601985669" x2="297.5" y2="37.88016601985669" stroke="#aaa" stroke-width="0.7" />
<line x1="512.6494397918711" y1="138.6" x2="512.6494397918711" y2="140.29999999999998" stroke="#444" stroke-width="0.8" />
<line x1="295.7" y1="29.382774115091905" x2="297.5" y2="29.382774115091905" stroke="#aaa" stroke-width="0.7" />
<line x1="314.87837009105635" y1="138.6" x2="314.87837009105635" y2="140.29999999999998" stroke="#444" stroke-width="0.8" />
<line x1="295.7" y1="130.14758157351608" x2="297.5" y2="130.14758157351608" stroke="#aaa" stroke-width="0.7" />
<line x1="311.1804536508871" y1="138.6" x2="311.1804536508871" y2="140.29999999999998" stroke="#444" stroke-width="0.8" />
<line x1="295.7" y1="132.0316783661091" x2="297.5" y2="132.0316783661091" stroke="#aaa" stroke-width="0.7" />
<line x1="308.5567401821128" y1="138.6" x2="308.5567401821128" y2="140.29999999999998" stroke="#444" stroke-width="0.8" />
<line x1="295.7" y1="133.36846631445295" x2="297.5" y2="133.36846631445295" stroke="#aaa" stroke-width="0.7" />
<line x1="306.52162990894357" y1="138.6" x2="306.52162990894357" y2="140.29999999999998" stroke="#444" stroke-width="0.8" />
<line x1="295.7" y1="134.40535960295452" x2="297.5" y2="134.40535960295452" stroke="#aaa" stroke-width="0.7" />
<line x1="304.85882374194347" y1="138.6" x2="304.85882374194347" y2="140.29999999999998" stroke="#444" stroke-width="0.8" />
<line x1="295.7" y1="135.252563107046" x2="297.5" y2="135.252563107046" stroke="#aaa" stroke-width="0.7" />
<line x1="303.4529411597006" y1="138.6" x2="303.4529411597006" y2="140.29999999999998" stroke="#444" stroke-width="0.8" />
<line x1="295.7" y1="135.96886346342856" x2="297.5" y2="135.96886346342856" stroke="#aaa" stroke-width="0.7" />
<line x1="302.2351102731692" y1="138.6" x2="302.2351102731692" y2="140.29999999999998" stroke="#444" stroke-width="0.8" />
<line x1="295.7" y1="136.5893510553898" x2="297.5" y2="136.5893510553898" stroke="#aaa" stroke-width="0.7" />
<line x1="301.16090730177416" y1="138.6" x2="301.16090730177416" y2="140.29999999999998" stroke="#444" stroke-width="0.8" />
<line x1="295.7" y1="137.13665989963906" x2="297.5" y2="137.13665989963906" stroke="#aaa" stroke-width="0.7" />
<line x1="327.25" y1="138.6" x2="327.25" y2="140.29999999999998" stroke="#444" stroke-width="0.8" />
<line x1="293.9" y1="123.84420814479638" x2="297.5" y2="123.84420814479638" stroke="#777" stroke-width="0.9" />
<line x1="333.3" y1="138.6" x2="333.3" y2="140.29999999999998" stroke="#444" stroke-width="0.8" />
<line x1="295.7" y1="120.76171945701358" x2="297.5" y2="120.76171945701358" stroke="#aaa" stroke-width="0.7" />
<line x1="339.35" y1="138.6" x2="339.35" y2="140.29999999999998" stroke="#444" stroke-width="0.8" />
<line x1="295.7" y1="117.67923076923077" x2="297.5" y2="117.67923076923077" stroke="#aaa" stroke-width="0.7" />
<text x="303.6" y="47.2" font-size="11.55" font-weight="bold" fill="#000">CD38<tspan dy="-3.4" font-size="7.5">+</tspan><tspan dy="3.4"> = 0.0%</tspan></text>
<line x1="296.5" y1="145.5" x2="516.5" y2="145.5" stroke="#6a6a6a" stroke-width="1" />
<line x1="516.5" y1="145.5" x2="516.5" y2="257.6" stroke="#8a8a8a" stroke-width="1" />
<line x1="296.5" y1="145.0" x2="296.5" y2="258.3" stroke="#111" stroke-width="1.25" />
<line x1="295.9" y1="257.6" x2="517.0" y2="257.6" stroke="#111" stroke-width="1.4" />
<line x1="298.5" y1="146.5" x2="386.5" y2="146.5" stroke="#6a6a6a" stroke-width="0.9" />
<line x1="298.5" y1="146.5" x2="298.5" y2="206.5" stroke="#6a6a6a" stroke-width="0.9" />
<line x1="298.5" y1="206.5" x2="516.5" y2="206.5" stroke="#6a6a6a" stroke-width="0.9" />
<line x1="386.5" y1="146.5" x2="466.5" y2="146.5" stroke="#484848" stroke-width="0.9" />
<line x1="386.5" y1="146.1" x2="386.5" y2="257.0" stroke="#484848" stroke-width="1" />
<line x1="402.5" y1="146.1" x2="402.5" y2="257.0" stroke="#484848" stroke-width="1" />
<line x1="415.5" y1="146.1" x2="415.5" y2="257.0" stroke="#484848" stroke-width="1" />
<line x1="429.5" y1="146.1" x2="429.5" y2="257.0" stroke="#484848" stroke-width="1" />
<line x1="445.5" y1="146.1" x2="445.5" y2="257.0" stroke="#484848" stroke-width="1" />
<line x1="466.5" y1="146.1" x2="466.5" y2="257.0" stroke="#484848" stroke-width="1" />
<line x1="319.8" y1="257.6" x2="319.8" y2="260.5" stroke="#222" stroke-width="0.8" />
<line x1="291.9" y1="245.83733031674208" x2="296.5" y2="245.83733031674208" stroke="#666" stroke-width="0.9" />
<line x1="344.0" y1="257.6" x2="344.0" y2="260.5" stroke="#222" stroke-width="0.8" />
<line x1="291.9" y1="233.5183257918552" x2="296.5" y2="233.5183257918552" stroke="#666" stroke-width="0.9" />
<line x1="396.6" y1="257.6" x2="396.6" y2="260.5" stroke="#222" stroke-width="0.8" />
<line x1="291.9" y1="206.74230769230772" x2="296.5" y2="206.74230769230772" stroke="#666" stroke-width="0.9" />
<line x1="448.1" y1="257.6" x2="448.1" y2="260.5" stroke="#222" stroke-width="0.8" />
<line x1="291.9" y1="180.5262443438914" x2="296.5" y2="180.5262443438914" stroke="#666" stroke-width="0.9" />
<line x1="496.8" y1="257.6" x2="496.8" y2="260.5" stroke="#222" stroke-width="0.8" />
<line x1="291.9" y1="155.73552036199095" x2="296.5" y2="155.73552036199095" stroke="#666" stroke-width="0.9" />
<line x1="359.8341777719254" y1="257.6" x2="359.8341777719254" y2="259.3" stroke="#444" stroke-width="0.8" />
<line x1="294.7" y1="225.45794117944973" x2="296.5" y2="225.45794117944973" stroke="#aaa" stroke-width="0.7" />
<line x1="369.09657799825425" y1="257.6" x2="369.09657799825425" y2="259.3" stroke="#444" stroke-width="0.8" />
<line x1="294.7" y1="220.74291843980274" x2="296.5" y2="220.74291843980274" stroke="#aaa" stroke-width="0.7" />
<line x1="375.66835554385085" y1="257.6" x2="375.66835554385085" y2="259.3" stroke="#444" stroke-width="0.8" />
<line x1="294.7" y1="217.39755656704426" x2="296.5" y2="217.39755656704426" stroke="#aaa" stroke-width="0.7" />
<line x1="380.7658222280746" y1="257.6" x2="380.7658222280746" y2="259.3" stroke="#444" stroke-width="0.8" />
<line x1="292.9" y1="214.80269230471316" x2="296.5" y2="214.80269230471316" stroke="#777" stroke-width="0.9" />
<line x1="384.93075577017964" y1="257.6" x2="384.93075577017964" y2="259.3" stroke="#444" stroke-width="0.8" />
<line x1="294.7" y1="212.68253382739724" x2="296.5" y2="212.68253382739724" stroke="#aaa" stroke-width="0.7" />
<line x1="388.4521569047499" y1="257.6" x2="388.4521569047499" y2="259.3" stroke="#444" stroke-width="0.8" />
<line x1="294.7" y1="210.88996537654134" x2="296.5" y2="210.88996537654134" stroke="#aaa" stroke-width="0.7" />
<line x1="391.50253331577625" y1="257.6" x2="391.50253331577625" y2="259.3" stroke="#444" stroke-width="0.8" />
<line x1="294.7" y1="209.3371719546388" x2="296.5" y2="209.3371719546388" stroke="#aaa" stroke-width="0.7" />
<line x1="394.1931559965085" y1="257.6" x2="394.1931559965085" y2="259.3" stroke="#444" stroke-width="0.8" />
<line x1="294.7" y1="207.9675110877502" x2="296.5" y2="207.9675110877502" stroke="#aaa" stroke-width="0.7" />
<line x1="412.103044776695" y1="257.6" x2="412.103044776695" y2="259.3" stroke="#444" stroke-width="0.8" />
<line x1="294.7" y1="198.8504862562073" x2="296.5" y2="198.8504862562073" stroke="#aaa" stroke-width="0.7" />
<line x1="421.17174461806263" y1="257.6" x2="421.17174461806263" y2="259.3" stroke="#444" stroke-width="0.8" />
<line x1="294.7" y1="194.23406665370118" x2="296.5" y2="194.23406665370118" stroke="#aaa" stroke-width="0.7" />
<line x1="427.6060895533901" y1="257.6" x2="427.6060895533901" y2="259.3" stroke="#444" stroke-width="0.8" />
<line x1="294.7" y1="190.9586648201069" x2="296.5" y2="190.9586648201069" stroke="#aaa" stroke-width="0.7" />
<line x1="432.596955223305" y1="257.6" x2="432.596955223305" y2="259.3" stroke="#444" stroke-width="0.8" />
<line x1="292.9" y1="188.41806577999182" x2="296.5" y2="188.41806577999182" stroke="#777" stroke-width="0.9" />
<line x1="436.6747893947577" y1="257.6" x2="436.6747893947577" y2="259.3" stroke="#444" stroke-width="0.8" />
<line x1="294.7" y1="186.34224521760075" x2="296.5" y2="186.34224521760075" stroke="#aaa" stroke-width="0.7" />
<line x1="440.12254906073423" y1="257.6" x2="440.12254906073423" y2="259.3" stroke="#444" stroke-width="0.8" />
<line x1="294.7" y1="184.5871639396715" x2="296.5" y2="184.5871639396715" stroke="#aaa" stroke-width="0.7" />
<line x1="443.1091343300851" y1="257.6" x2="443.1091343300851" y2="259.3" stroke="#444" stroke-width="0.8" />
<line x1="294.7" y1="183.06684338400646" x2="296.5" y2="183.06684338400646" stroke="#aaa" stroke-width="0.7" />
<line x1="445.74348923612524" y1="257.6" x2="445.74348923612524" y2="259.3" stroke="#444" stroke-width="0.8" />
<line x1="294.7" y1="181.72582561509464" x2="296.5" y2="181.72582561509464" stroke="#aaa" stroke-width="0.7" />
<line x1="462.7601607888359" y1="257.6" x2="462.7601607888359" y2="259.3" stroke="#444" stroke-width="0.8" />
<line x1="294.7" y1="173.06349281111298" x2="296.5" y2="173.06349281111298" stroke="#aaa" stroke-width="0.7" />
<line x1="471.33580510484757" y1="257.6" x2="471.33580510484757" y2="259.3" stroke="#444" stroke-width="0.8" />
<line x1="294.7" y1="168.69806301223826" x2="296.5" y2="168.69806301223826" stroke="#aaa" stroke-width="0.7" />
<line x1="477.42032157767176" y1="257.6" x2="477.42032157767176" y2="259.3" stroke="#444" stroke-width="0.8" />
<line x1="294.7" y1="165.6007412783345" x2="296.5" y2="165.6007412783345" stroke="#aaa" stroke-width="0.7" />
<line x1="482.13983921116414" y1="257.6" x2="482.13983921116414" y2="259.3" stroke="#444" stroke-width="0.8" />
<line x1="292.9" y1="163.1982718947694" x2="296.5" y2="163.1982718947694" stroke="#777" stroke-width="0.9" />
<line x1="485.99596589368343" y1="257.6" x2="485.99596589368343" y2="259.3" stroke="#444" stroke-width="0.8" />
<line x1="294.7" y1="161.2353114794598" x2="296.5" y2="161.2353114794598" stroke="#aaa" stroke-width="0.7" />
<line x1="489.2562745486943" y1="257.6" x2="489.2562745486943" y2="259.3" stroke="#444" stroke-width="0.8" />
<line x1="294.7" y1="159.57565209625292" x2="296.5" y2="159.57565209625292" stroke="#aaa" stroke-width="0.7" />
<line x1="492.0804823665077" y1="257.6" x2="492.0804823665077" y2="259.3" stroke="#444" stroke-width="0.8" />
<line x1="294.7" y1="158.13798974555607" x2="296.5" y2="158.13798974555607" stroke="#aaa" stroke-width="0.7" />
<line x1="494.5716102096951" y1="257.6" x2="494.5716102096951" y2="259.3" stroke="#444" stroke-width="0.8" />
<line x1="294.7" y1="156.86988168058508" x2="296.5" y2="156.86988168058508" stroke="#aaa" stroke-width="0.7" />
<line x1="511.2494397918711" y1="257.6" x2="511.2494397918711" y2="259.3" stroke="#444" stroke-width="0.8" />
<line x1="294.7" y1="148.380036305043" x2="296.5" y2="148.380036305043" stroke="#aaa" stroke-width="0.7" />
<line x1="313.4783700910564" y1="257.6" x2="313.4783700910564" y2="259.3" stroke="#444" stroke-width="0.8" />
<line x1="294.7" y1="249.05535459165682" x2="296.5" y2="249.05535459165682" stroke="#aaa" stroke-width="0.7" />
<line x1="309.7804536508871" y1="257.6" x2="309.7804536508871" y2="259.3" stroke="#444" stroke-width="0.8" />
<line x1="294.7" y1="250.93777811889234" x2="296.5" y2="250.93777811889234" stroke="#aaa" stroke-width="0.7" />
<line x1="307.1567401821128" y1="257.6" x2="307.1567401821128" y2="259.3" stroke="#444" stroke-width="0.8" />
<line x1="294.7" y1="252.27337886657156" x2="296.5" y2="252.27337886657156" stroke="#aaa" stroke-width="0.7" />
<line x1="305.1216299089436" y1="257.6" x2="305.1216299089436" y2="259.3" stroke="#444" stroke-width="0.8" />
<line x1="294.7" y1="253.30935129069613" x2="296.5" y2="253.30935129069613" stroke="#aaa" stroke-width="0.7" />
<line x1="303.4588237419435" y1="257.6" x2="303.4588237419435" y2="259.3" stroke="#444" stroke-width="0.8" />
<line x1="294.7" y1="254.15580239380705" x2="296.5" y2="254.15580239380705" stroke="#aaa" stroke-width="0.7" />
<line x1="302.0529411597006" y1="257.6" x2="302.0529411597006" y2="259.3" stroke="#444" stroke-width="0.8" />
<line x1="294.7" y1="254.87146660422482" x2="296.5" y2="254.87146660422482" stroke="#aaa" stroke-width="0.7" />
<line x1="300.8351102731692" y1="257.6" x2="300.8351102731692" y2="259.3" stroke="#444" stroke-width="0.8" />
<line x1="294.7" y1="255.49140314148627" x2="296.5" y2="255.49140314148627" stroke="#aaa" stroke-width="0.7" />
<line x1="299.7609073017742" y1="257.6" x2="299.7609073017742" y2="259.3" stroke="#444" stroke-width="0.8" />
<line x1="294.7" y1="256.03822592104257" x2="296.5" y2="256.03822592104257" stroke="#aaa" stroke-width="0.7" />
<line x1="325.85" y1="257.6" x2="325.85" y2="259.3" stroke="#444" stroke-width="0.8" />
<line x1="292.9" y1="242.75757918552037" x2="296.5" y2="242.75757918552037" stroke="#777" stroke-width="0.9" />
<line x1="331.90000000000003" y1="257.6" x2="331.90000000000003" y2="259.3" stroke="#444" stroke-width="0.8" />
<line x1="294.7" y1="239.67782805429866" x2="296.5" y2="239.67782805429866" stroke="#aaa" stroke-width="0.7" />
<line x1="337.95000000000005" y1="257.6" x2="337.95000000000005" y2="259.3" stroke="#444" stroke-width="0.8" />
<line x1="294.7" y1="236.59807692307692" x2="296.5" y2="236.59807692307692" stroke="#aaa" stroke-width="0.7" />
<text x="303.6" y="163.1" font-size="11.55" font-weight="bold" fill="#000">CD38<tspan dy="-3.4" font-size="7.5">+</tspan><tspan dy="3.4"> = 2.2%</tspan></text>
<line x1="295.5" y1="262.5" x2="516.5" y2="262.5" stroke="#6a6a6a" stroke-width="1" />
<line x1="516.5" y1="262.5" x2="516.5" y2="374.6" stroke="#8a8a8a" stroke-width="1" />
<line x1="295.5" y1="262.0" x2="295.5" y2="375.3" stroke="#111" stroke-width="1.25" />
<line x1="294.9" y1="374.6" x2="517.0" y2="374.6" stroke="#111" stroke-width="1.4" />
<line x1="297.5" y1="264.5" x2="386.5" y2="264.5" stroke="#6a6a6a" stroke-width="0.9" />
<line x1="297.5" y1="264.5" x2="297.5" y2="323.5" stroke="#6a6a6a" stroke-width="0.9" />
<line x1="297.5" y1="323.5" x2="516.5" y2="323.5" stroke="#6a6a6a" stroke-width="0.9" />
<line x1="386.5" y1="264.5" x2="465.5" y2="264.5" stroke="#484848" stroke-width="0.9" />
<line x1="386.5" y1="264.1" x2="386.5" y2="374.0" stroke="#484848" stroke-width="1" />
<line x1="401.5" y1="264.1" x2="401.5" y2="374.0" stroke="#484848" stroke-width="1" />
<line x1="415.5" y1="264.1" x2="415.5" y2="374.0" stroke="#484848" stroke-width="1" />
<line x1="429.5" y1="264.1" x2="429.5" y2="374.0" stroke="#484848" stroke-width="1" />
<line x1="445.5" y1="264.1" x2="445.5" y2="374.0" stroke="#484848" stroke-width="1" />
<line x1="465.5" y1="264.1" x2="465.5" y2="374.0" stroke="#484848" stroke-width="1" />
<line x1="318.9" y1="374.6" x2="318.9" y2="377.5" stroke="#222" stroke-width="0.8" />
<line x1="290.9" y1="362.81176470588235" x2="295.5" y2="362.81176470588235" stroke="#666" stroke-width="0.9" />
<line x1="343.09999999999997" y1="374.6" x2="343.09999999999997" y2="377.5" stroke="#222" stroke-width="0.8" />
<line x1="290.9" y1="350.5694117647059" x2="295.5" y2="350.5694117647059" stroke="#666" stroke-width="0.9" />
<line x1="395.7" y1="374.6" x2="395.7" y2="377.5" stroke="#222" stroke-width="0.8" />
<line x1="290.9" y1="323.96" x2="295.5" y2="323.96" stroke="#666" stroke-width="0.9" />
<line x1="447.2" y1="374.6" x2="447.2" y2="377.5" stroke="#222" stroke-width="0.8" />
<line x1="290.9" y1="297.9070588235294" x2="295.5" y2="297.9070588235294" stroke="#666" stroke-width="0.9" />
<line x1="495.9" y1="374.6" x2="495.9" y2="377.5" stroke="#222" stroke-width="0.8" />
<line x1="290.9" y1="273.2705882352941" x2="295.5" y2="273.2705882352941" stroke="#666" stroke-width="0.9" />
<line x1="358.9341777719254" y1="374.6" x2="358.9341777719254" y2="376.3" stroke="#444" stroke-width="0.8" />
<line x1="293.7" y1="342.5591806565554" x2="295.5" y2="342.5591806565554" stroke="#aaa" stroke-width="0.7" />
<line x1="368.1965779982542" y1="374.6" x2="368.1965779982542" y2="376.3" stroke="#444" stroke-width="0.8" />
<line x1="293.7" y1="337.87349583617726" x2="295.5" y2="337.87349583617726" stroke="#aaa" stroke-width="0.7" />
<line x1="374.7683555438508" y1="374.6" x2="374.7683555438508" y2="376.3" stroke="#444" stroke-width="0.8" />
<line x1="293.7" y1="334.54894954840483" x2="295.5" y2="334.54894954840483" stroke="#aaa" stroke-width="0.7" />
<line x1="379.86582222807453" y1="374.6" x2="379.86582222807453" y2="376.3" stroke="#444" stroke-width="0.8" />
<line x1="291.9" y1="331.9702311081505" x2="295.5" y2="331.9702311081505" stroke="#777" stroke-width="0.9" />
<line x1="384.03075577017967" y1="374.6" x2="384.03075577017967" y2="376.3" stroke="#444" stroke-width="0.8" />
<line x1="293.7" y1="329.86326472802676" x2="295.5" y2="329.86326472802676" stroke="#aaa" stroke-width="0.7" />
<line x1="387.5521569047499" y1="374.6" x2="387.5521569047499" y2="376.3" stroke="#444" stroke-width="0.8" />
<line x1="293.7" y1="328.08185003642063" x2="295.5" y2="328.08185003642063" stroke="#aaa" stroke-width="0.7" />
<line x1="390.6025333157762" y1="374.6" x2="390.6025333157762" y2="376.3" stroke="#444" stroke-width="0.8" />
<line x1="293.7" y1="326.53871844025434" x2="295.5" y2="326.53871844025434" stroke="#aaa" stroke-width="0.7" />
<line x1="393.29315599650846" y1="374.6" x2="393.29315599650846" y2="376.3" stroke="#444" stroke-width="0.8" />
<line x1="293.7" y1="325.17757990764864" x2="295.5" y2="325.17757990764864" stroke="#aaa" stroke-width="0.7" />
<line x1="411.20304477669504" y1="374.6" x2="411.20304477669504" y2="376.3" stroke="#444" stroke-width="0.8" />
<line x1="293.7" y1="316.1172832306131" x2="295.5" y2="316.1172832306131" stroke="#aaa" stroke-width="0.7" />
<line x1="420.2717446180626" y1="374.6" x2="420.2717446180626" y2="376.3" stroke="#444" stroke-width="0.8" />
<line x1="293.7" y1="311.52958801674475" x2="295.5" y2="311.52958801674475" stroke="#aaa" stroke-width="0.7" />
<line x1="426.70608955339003" y1="374.6" x2="426.70608955339003" y2="376.3" stroke="#444" stroke-width="0.8" />
<line x1="293.7" y1="308.2745664612262" x2="295.5" y2="308.2745664612262" stroke="#aaa" stroke-width="0.7" />
<line x1="431.69695522330494" y1="374.6" x2="431.69695522330494" y2="376.3" stroke="#444" stroke-width="0.8" />
<line x1="291.9" y1="305.7497755929163" x2="295.5" y2="305.7497755929163" stroke="#777" stroke-width="0.9" />
<line x1="435.77478939475765" y1="374.6" x2="435.77478939475765" y2="376.3" stroke="#444" stroke-width="0.8" />
<line x1="293.7" y1="303.6868712473579" x2="295.5" y2="303.6868712473579" stroke="#aaa" stroke-width="0.7" />
<line x1="439.2225490607342" y1="374.6" x2="439.2225490607342" y2="376.3" stroke="#444" stroke-width="0.8" />
<line x1="293.7" y1="301.942710475158" x2="295.5" y2="301.942710475158" stroke="#aaa" stroke-width="0.7" />
<line x1="442.2091343300851" y1="374.6" x2="442.2091343300851" y2="376.3" stroke="#444" stroke-width="0.8" />
<line x1="293.7" y1="300.43184969183926" x2="295.5" y2="300.43184969183926" stroke="#aaa" stroke-width="0.7" />
<line x1="444.8434892361252" y1="374.6" x2="444.8434892361252" y2="376.3" stroke="#444" stroke-width="0.8" />
<line x1="293.7" y1="299.0991760334896" x2="295.5" y2="299.0991760334896" stroke="#aaa" stroke-width="0.7" />
<line x1="461.86016078883586" y1="374.6" x2="461.86016078883586" y2="376.3" stroke="#444" stroke-width="0.8" />
<line x1="293.7" y1="290.4907421891771" x2="295.5" y2="290.4907421891771" stroke="#aaa" stroke-width="0.7" />
<line x1="470.43580510484753" y1="374.6" x2="470.43580510484753" y2="376.3" stroke="#444" stroke-width="0.8" />
<line x1="293.7" y1="286.1524750646065" x2="295.5" y2="286.1524750646065" stroke="#aaa" stroke-width="0.7" />
<line x1="476.5203215776718" y1="374.6" x2="476.5203215776718" y2="376.3" stroke="#444" stroke-width="0.8" />
<line x1="293.7" y1="283.07442555482487" x2="295.5" y2="283.07442555482487" stroke="#aaa" stroke-width="0.7" />
<line x1="481.2398392111641" y1="374.6" x2="481.2398392111641" y2="376.3" stroke="#444" stroke-width="0.8" />
<line x1="291.9" y1="280.68690486964636" x2="295.5" y2="280.68690486964636" stroke="#777" stroke-width="0.9" />
<line x1="485.09596589368346" y1="374.6" x2="485.09596589368346" y2="376.3" stroke="#444" stroke-width="0.8" />
<line x1="293.7" y1="278.73615843025425" x2="295.5" y2="278.73615843025425" stroke="#aaa" stroke-width="0.7" />
<line x1="488.3562745486943" y1="374.6" x2="488.3562745486943" y2="376.3" stroke="#444" stroke-width="0.8" />
<line x1="293.7" y1="277.08682581654284" x2="295.5" y2="277.08682581654284" stroke="#aaa" stroke-width="0.7" />
<line x1="491.1804823665076" y1="374.6" x2="491.1804823665076" y2="376.3" stroke="#444" stroke-width="0.8" />
<line x1="293.7" y1="275.65810892047256" x2="295.5" y2="275.65810892047256" stroke="#aaa" stroke-width="0.7" />
<line x1="493.67161020969513" y1="374.6" x2="493.67161020969513" y2="376.3" stroke="#444" stroke-width="0.8" />
<line x1="293.7" y1="274.39789130568363" x2="295.5" y2="274.39789130568363" stroke="#aaa" stroke-width="0.7" />
<line x1="510.3494397918711" y1="374.6" x2="510.3494397918711" y2="376.3" stroke="#444" stroke-width="0.8" />
<line x1="293.7" y1="265.9608716347005" x2="295.5" y2="265.9608716347005" stroke="#aaa" stroke-width="0.7" />
<line x1="312.5783700910564" y1="374.6" x2="312.5783700910564" y2="376.3" stroke="#444" stroke-width="0.8" />
<line x1="293.7" y1="366.00976571864203" x2="295.5" y2="366.00976571864203" stroke="#aaa" stroke-width="0.7" />
<line x1="308.8804536508871" y1="374.6" x2="308.8804536508871" y2="376.3" stroke="#444" stroke-width="0.8" />
<line x1="293.7" y1="367.88047638837475" x2="295.5" y2="367.88047638837475" stroke="#aaa" stroke-width="0.7" />
<line x1="306.25674018211276" y1="374.6" x2="306.25674018211276" y2="376.3" stroke="#444" stroke-width="0.8" />
<line x1="293.7" y1="369.20776673140176" x2="295.5" y2="369.20776673140176" stroke="#aaa" stroke-width="0.7" />
<line x1="304.22162990894356" y1="374.6" x2="304.22162990894356" y2="376.3" stroke="#444" stroke-width="0.8" />
<line x1="293.7" y1="370.2372931048873" x2="295.5" y2="370.2372931048873" stroke="#aaa" stroke-width="0.7" />
<line x1="302.55882374194346" y1="374.6" x2="302.55882374194346" y2="376.3" stroke="#444" stroke-width="0.8" />
<line x1="293.7" y1="371.0784774011345" x2="295.5" y2="371.0784774011345" stroke="#aaa" stroke-width="0.7" />
<line x1="301.15294115970056" y1="374.6" x2="301.15294115970056" y2="376.3" stroke="#444" stroke-width="0.8" />
<line x1="293.7" y1="371.7896885897985" x2="295.5" y2="371.7896885897985" stroke="#aaa" stroke-width="0.7" />
<line x1="299.9351102731692" y1="374.6" x2="299.9351102731692" y2="376.3" stroke="#444" stroke-width="0.8" />
<line x1="293.7" y1="372.40576774416144" x2="295.5" y2="372.40576774416144" stroke="#aaa" stroke-width="0.7" />
<line x1="298.86090730177415" y1="374.6" x2="298.86090730177415" y2="376.3" stroke="#444" stroke-width="0.8" />
<line x1="293.7" y1="372.9491880708672" x2="295.5" y2="372.9491880708672" stroke="#aaa" stroke-width="0.7" />
<line x1="324.95" y1="374.6" x2="324.95" y2="376.3" stroke="#444" stroke-width="0.8" />
<line x1="291.9" y1="359.75117647058823" x2="295.5" y2="359.75117647058823" stroke="#777" stroke-width="0.9" />
<line x1="331.0" y1="374.6" x2="331.0" y2="376.3" stroke="#444" stroke-width="0.8" />
<line x1="293.7" y1="356.6905882352941" x2="295.5" y2="356.6905882352941" stroke="#aaa" stroke-width="0.7" />
<line x1="337.04999999999995" y1="374.6" x2="337.04999999999995" y2="376.3" stroke="#444" stroke-width="0.8" />
<line x1="293.7" y1="353.63" x2="295.5" y2="353.63" stroke="#aaa" stroke-width="0.7" />
<text x="303.6" y="287.3" font-size="11.55" font-weight="bold" fill="#000">CD38<tspan dy="-3.4" font-size="7.5">+</tspan><tspan dy="3.4"> = 3.3%</tspan></text>
<line x1="297.5" y1="381.5" x2="517.5" y2="381.5" stroke="#6a6a6a" stroke-width="1" />
<line x1="517.5" y1="381.5" x2="517.5" y2="493.6" stroke="#8a8a8a" stroke-width="1" />
<line x1="297.5" y1="381.0" x2="297.5" y2="494.3" stroke="#111" stroke-width="1.25" />
<line x1="296.9" y1="493.6" x2="518.0" y2="493.6" stroke="#111" stroke-width="1.4" />
<line x1="299.5" y1="382.5" x2="388.5" y2="382.5" stroke="#6a6a6a" stroke-width="0.9" />
<line x1="299.5" y1="382.5" x2="299.5" y2="441.5" stroke="#6a6a6a" stroke-width="0.9" />
<line x1="299.5" y1="441.5" x2="517.5" y2="441.5" stroke="#6a6a6a" stroke-width="0.9" />
<line x1="388.5" y1="382.5" x2="467.5" y2="382.5" stroke="#484848" stroke-width="0.9" />
<line x1="388.5" y1="382.1" x2="388.5" y2="493.0" stroke="#484848" stroke-width="1" />
<line x1="403.5" y1="382.1" x2="403.5" y2="493.0" stroke="#484848" stroke-width="1" />
<line x1="417.5" y1="382.1" x2="417.5" y2="493.0" stroke="#484848" stroke-width="1" />
<line x1="431.5" y1="382.1" x2="431.5" y2="493.0" stroke="#484848" stroke-width="1" />
<line x1="447.5" y1="382.1" x2="447.5" y2="493.0" stroke="#484848" stroke-width="1" />
<line x1="467.5" y1="382.1" x2="467.5" y2="493.0" stroke="#484848" stroke-width="1" />
<line x1="320.8" y1="493.6" x2="320.8" y2="496.5" stroke="#222" stroke-width="0.8" />
<line x1="292.9" y1="481.29049773755656" x2="297.5" y2="481.29049773755656" stroke="#666" stroke-width="0.9" />
<line x1="345.0" y1="493.6" x2="345.0" y2="496.5" stroke="#222" stroke-width="0.8" />
<line x1="292.9" y1="469.0262443438914" x2="297.5" y2="469.0262443438914" stroke="#666" stroke-width="0.9" />
<line x1="397.6" y1="493.6" x2="397.6" y2="496.5" stroke="#222" stroke-width="0.8" />
<line x1="292.9" y1="442.36923076923074" x2="297.5" y2="442.36923076923074" stroke="#666" stroke-width="0.9" />
<line x1="449.1" y1="493.6" x2="449.1" y2="496.5" stroke="#222" stroke-width="0.8" />
<line x1="292.9" y1="416.26968325791853" x2="297.5" y2="416.26968325791853" stroke="#666" stroke-width="0.9" />
<line x1="497.8" y1="493.6" x2="497.8" y2="496.5" stroke="#222" stroke-width="0.8" />
<line x1="292.9" y1="391.5891402714932" x2="297.5" y2="391.5891402714932" stroke="#666" stroke-width="0.9" />
<line x1="360.8341777719254" y1="493.6" x2="360.8341777719254" y2="495.3" stroke="#444" stroke-width="0.8" />
<line x1="295.7" y1="461.0016836630966" x2="297.5" y2="461.0016836630966" stroke="#aaa" stroke-width="0.7" />
<line x1="370.09657799825425" y1="493.6" x2="370.09657799825425" y2="495.3" stroke="#444" stroke-width="0.8" />
<line x1="295.7" y1="456.30761658007026" x2="297.5" y2="456.30761658007026" stroke="#aaa" stroke-width="0.7" />
<line x1="376.66835554385085" y1="493.6" x2="376.66835554385085" y2="495.3" stroke="#444" stroke-width="0.8" />
<line x1="295.7" y1="452.9771229823018" x2="297.5" y2="452.9771229823018" stroke="#aaa" stroke-width="0.7" />
<line x1="381.7658222280746" y1="493.6" x2="381.7658222280746" y2="495.3" stroke="#444" stroke-width="0.8" />
<line x1="293.9" y1="450.39379145002556" x2="297.5" y2="450.39379145002556" stroke="#777" stroke-width="0.9" />
<line x1="385.93075577017964" y1="493.6" x2="385.93075577017964" y2="495.3" stroke="#444" stroke-width="0.8" />
<line x1="295.7" y1="448.28305589927544" x2="297.5" y2="448.28305589927544" stroke="#aaa" stroke-width="0.7" />
<line x1="389.4521569047499" y1="493.6" x2="389.4521569047499" y2="495.3" stroke="#444" stroke-width="0.8" />
<line x1="295.7" y1="446.4984544193122" x2="297.5" y2="446.4984544193122" stroke="#aaa" stroke-width="0.7" />
<line x1="392.50253331577625" y1="493.6" x2="392.50253331577625" y2="495.3" stroke="#444" stroke-width="0.8" />
<line x1="295.7" y1="444.95256230150704" x2="297.5" y2="444.95256230150704" stroke="#aaa" stroke-width="0.7" />
<line x1="395.1931559965085" y1="493.6" x2="395.1931559965085" y2="495.3" stroke="#444" stroke-width="0.8" />
<line x1="295.7" y1="443.58898881624907" x2="297.5" y2="443.58898881624907" stroke="#aaa" stroke-width="0.7" />
<line x1="413.103044776695" y1="493.6" x2="413.103044776695" y2="495.3" stroke="#444" stroke-width="0.8" />
<line x1="295.7" y1="434.51248409506854" x2="297.5" y2="434.51248409506854" stroke="#aaa" stroke-width="0.7" />
<line x1="422.17174461806263" y1="493.6" x2="422.17174461806263" y2="495.3" stroke="#444" stroke-width="0.8" />
<line x1="295.7" y1="429.91658191301804" x2="297.5" y2="429.91658191301804" stroke="#aaa" stroke-width="0.7" />
<line x1="428.6060895533901" y1="493.6" x2="428.6060895533901" y2="495.3" stroke="#444" stroke-width="0.8" />
<line x1="295.7" y1="426.65573742090635" x2="297.5" y2="426.65573742090635" stroke="#aaa" stroke-width="0.7" />
<line x1="433.596955223305" y1="493.6" x2="433.596955223305" y2="495.3" stroke="#444" stroke-width="0.8" />
<line x1="293.9" y1="424.1264299320807" x2="297.5" y2="424.1264299320807" stroke="#777" stroke-width="0.9" />
<line x1="437.6747893947577" y1="493.6" x2="437.6747893947577" y2="495.3" stroke="#444" stroke-width="0.8" />
<line x1="295.7" y1="422.05983523885584" x2="297.5" y2="422.05983523885584" stroke="#aaa" stroke-width="0.7" />
<line x1="441.12254906073423" y1="493.6" x2="441.12254906073423" y2="495.3" stroke="#444" stroke-width="0.8" />
<line x1="295.7" y1="420.3125543221618" x2="297.5" y2="420.3125543221618" stroke="#aaa" stroke-width="0.7" />
<line x1="444.1091343300851" y1="493.6" x2="444.1091343300851" y2="495.3" stroke="#444" stroke-width="0.8" />
<line x1="295.7" y1="418.7989907467442" x2="297.5" y2="418.7989907467442" stroke="#aaa" stroke-width="0.7" />
<line x1="446.74348923612524" y1="493.6" x2="446.74348923612524" y2="495.3" stroke="#444" stroke-width="0.8" />
<line x1="295.7" y1="417.46393305680533" x2="297.5" y2="417.46393305680533" stroke="#aaa" stroke-width="0.7" />
<line x1="463.7601607888359" y1="493.6" x2="463.7601607888359" y2="495.3" stroke="#444" stroke-width="0.8" />
<line x1="295.7" y1="408.84009950973024" x2="297.5" y2="408.84009950973024" stroke="#aaa" stroke-width="0.7" />
<line x1="472.33580510484757" y1="493.6" x2="472.33580510484757" y2="495.3" stroke="#444" stroke-width="0.8" />
<line x1="295.7" y1="404.49407162107275" x2="297.5" y2="404.49407162107275" stroke="#aaa" stroke-width="0.7" />
<line x1="478.42032157767176" y1="493.6" x2="478.42032157767176" y2="495.3" stroke="#444" stroke-width="0.8" />
<line x1="295.7" y1="401.4105157615419" x2="297.5" y2="401.4105157615419" stroke="#aaa" stroke-width="0.7" />
<line x1="483.13983921116414" y1="493.6" x2="483.13983921116414" y2="495.3" stroke="#444" stroke-width="0.8" />
<line x1="293.9" y1="399.0187240196815" x2="297.5" y2="399.0187240196815" stroke="#777" stroke-width="0.9" />
<line x1="486.99596589368343" y1="493.6" x2="486.99596589368343" y2="495.3" stroke="#444" stroke-width="0.8" />
<line x1="295.7" y1="397.0644878728844" x2="297.5" y2="397.0644878728844" stroke="#aaa" stroke-width="0.7" />
<line x1="490.2562745486943" y1="493.6" x2="490.2562745486943" y2="495.3" stroke="#444" stroke-width="0.8" />
<line x1="295.7" y1="395.41220475360285" x2="297.5" y2="395.41220475360285" stroke="#aaa" stroke-width="0.7" />
<line x1="493.0804823665077" y1="493.6" x2="493.0804823665077" y2="495.3" stroke="#444" stroke-width="0.8" />
<line x1="295.7" y1="393.9809320133536" x2="297.5" y2="393.9809320133536" stroke="#aaa" stroke-width="0.7" />
<line x1="495.5716102096951" y1="493.6" x2="495.5716102096951" y2="495.3" stroke="#444" stroke-width="0.8" />
<line x1="295.7" y1="392.7184599842269" x2="297.5" y2="392.7184599842269" stroke="#aaa" stroke-width="0.7" />
<line x1="512.249439791871" y1="493.6" x2="512.249439791871" y2="495.3" stroke="#444" stroke-width="0.8" />
<line x1="295.7" y1="384.26634725479835" x2="297.5" y2="384.26634725479835" stroke="#aaa" stroke-width="0.7" />
<line x1="314.4783700910564" y1="493.6" x2="314.4783700910564" y2="495.3" stroke="#444" stroke-width="0.8" />
<line x1="295.7" y1="484.49421968236055" x2="297.5" y2="484.49421968236055" stroke="#aaa" stroke-width="0.7" />
<line x1="310.7804536508871" y1="493.6" x2="310.7804536508871" y2="495.3" stroke="#444" stroke-width="0.8" />
<line x1="295.7" y1="486.36827688280835" x2="297.5" y2="486.36827688280835" stroke="#aaa" stroke-width="0.7" />
<line x1="308.1567401821128" y1="493.6" x2="308.1567401821128" y2="495.3" stroke="#444" stroke-width="0.8" />
<line x1="295.7" y1="487.69794162716454" x2="297.5" y2="487.69794162716454" stroke="#aaa" stroke-width="0.7" />
<line x1="306.1216299089436" y1="493.6" x2="306.1216299089436" y2="495.3" stroke="#444" stroke-width="0.8" />
<line x1="295.7" y1="488.7293097294041" x2="297.5" y2="488.7293097294041" stroke="#aaa" stroke-width="0.7" />
<line x1="304.4588237419435" y1="493.6" x2="304.4588237419435" y2="495.3" stroke="#444" stroke-width="0.8" />
<line x1="295.7" y1="489.57199882761233" x2="297.5" y2="489.57199882761233" stroke="#aaa" stroke-width="0.7" />
<line x1="303.0529411597006" y1="493.6" x2="303.0529411597006" y2="495.3" stroke="#444" stroke-width="0.8" />
<line x1="295.7" y1="490.284482308206" x2="297.5" y2="490.284482308206" stroke="#aaa" stroke-width="0.7" />
<line x1="301.8351102731692" y1="493.6" x2="301.8351102731692" y2="495.3" stroke="#444" stroke-width="0.8" />
<line x1="295.7" y1="490.9016635719685" x2="297.5" y2="490.9016635719685" stroke="#aaa" stroke-width="0.7" />
<line x1="300.7609073017742" y1="493.6" x2="300.7609073017742" y2="495.3" stroke="#444" stroke-width="0.8" />
<line x1="295.7" y1="491.4460560280601" x2="297.5" y2="491.4460560280601" stroke="#aaa" stroke-width="0.7" />
<line x1="326.85" y1="493.6" x2="326.85" y2="495.3" stroke="#444" stroke-width="0.8" />
<line x1="293.9" y1="478.22443438914024" x2="297.5" y2="478.22443438914024" stroke="#777" stroke-width="0.9" />
<line x1="332.90000000000003" y1="493.6" x2="332.90000000000003" y2="495.3" stroke="#444" stroke-width="0.8" />
<line x1="295.7" y1="475.158371040724" x2="297.5" y2="475.158371040724" stroke="#aaa" stroke-width="0.7" />
<line x1="338.95000000000005" y1="493.6" x2="338.95000000000005" y2="495.3" stroke="#444" stroke-width="0.8" />
<line x1="295.7" y1="472.09230769230766" x2="297.5" y2="472.09230769230766" stroke="#aaa" stroke-width="0.7" />
<text x="303.6" y="402.1" font-size="11.55" font-weight="bold" fill="#000">CD38<tspan dy="-3.4" font-size="7.5">+</tspan><tspan dy="3.4"> = 24.2%</tspan></text>
<text x="305.3" y="109.9" font-size="14.6" font-weight="bold" text-anchor="start" fill="#000" >Blood</text>
<text x="305" y="229.8" font-size="14" font-weight="bold" text-anchor="start" fill="#000" >Peritoneum</text>
<text x="305.4" y="337.7" font-size="14.7" font-weight="bold" text-anchor="start" fill="#000" >Bone</text>
<text x="305.4" y="355.9" font-size="14.7" font-weight="bold" text-anchor="start" fill="#000" >Marrow</text>
<text x="304.4" y="464.6" font-size="14.7" font-weight="bold" text-anchor="start" fill="#000" >Spleen</text>
<line x1="284.9" y1="490.6" x2="284.9" y2="355" stroke="#000" stroke-width="3" />
<polygon points="284.9,349 280.2,357.8 284.9,356.6 289.6,357.8" fill="#000"/>
<text transform="translate(280.4,441) rotate(-90)" font-size="14.6" font-weight="bold" fill="#000">CD38</text>
<line x1="303" y1="517.7" x2="418" y2="517.7" stroke="#000" stroke-width="2.6" />
<polygon points="427.2,517.7 414,512.5 415.4,517.7 414,522.9" fill="#000"/>
<text x="343.4" y="537.7" font-size="14.4" font-weight="bold" text-anchor="start" fill="#000" >CFSE</text>
<text x="397.9" y="511.3" font-size="11" font-weight="bold" text-anchor="middle" fill="#000" >4</text>
<text x="412.3" y="511.3" font-size="11" font-weight="bold" text-anchor="middle" fill="#000" >3</text>
<text x="426" y="511.3" font-size="11" font-weight="bold" text-anchor="middle" fill="#000" >2</text>
<text x="440.1" y="511.3" font-size="11" font-weight="bold" text-anchor="middle" fill="#000" >1</text>
<text x="460.8" y="511.3" font-size="11" font-weight="bold" text-anchor="middle" fill="#000" >0</text>
</svg>
</body></html>
